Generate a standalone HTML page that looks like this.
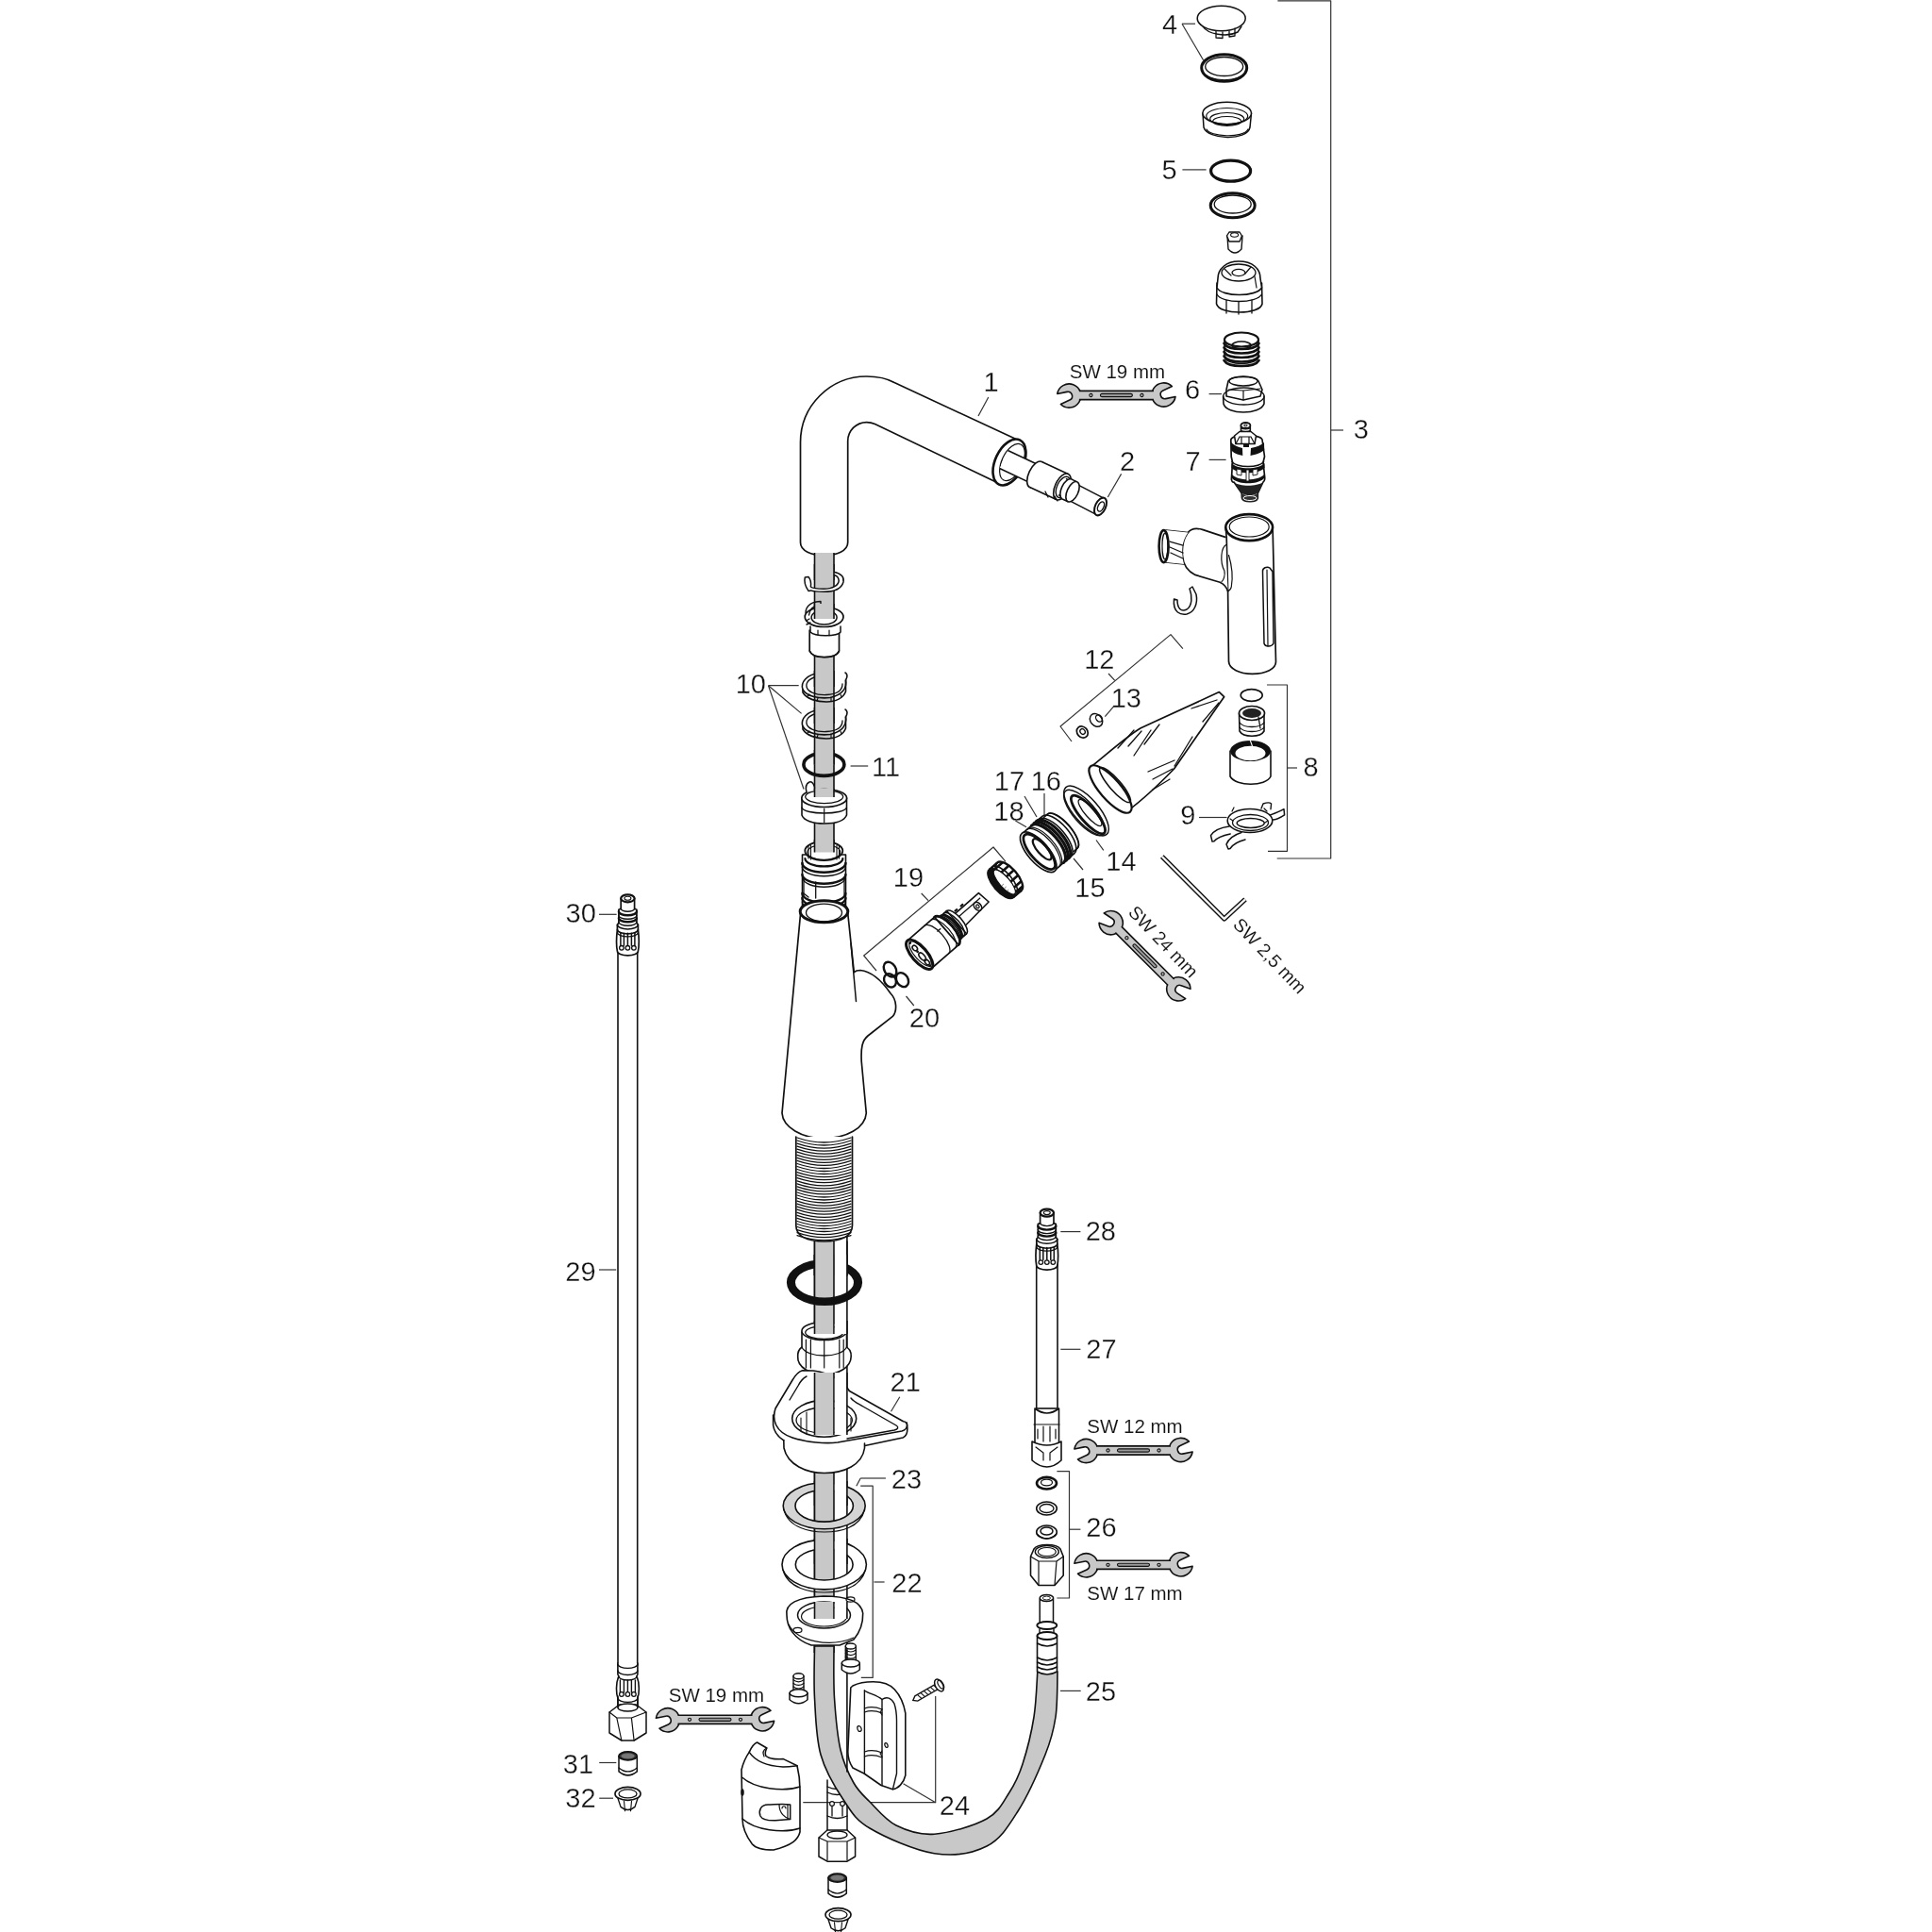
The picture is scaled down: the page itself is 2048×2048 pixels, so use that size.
<!DOCTYPE html>
<html><head><meta charset="utf-8"><style>
html,body{margin:0;padding:0;background:#fff;}
svg{display:block;will-change:transform;}
text{font-family:"Liberation Sans",sans-serif;fill:#111;stroke:#fff;stroke-width:0.3px;paint-order:normal;}
text.sw{stroke-width:0.1px;}
</style></head><body>
<svg xmlns="http://www.w3.org/2000/svg" width="2048" height="2048" viewBox="0 0 2048 2048">
<rect width="2048" height="2048" fill="#fff"/>
<text x="1050.5" y="414.5" font-size="29" text-anchor="middle" >1</text>
<text x="1195" y="498.7" font-size="29" text-anchor="middle" >2</text>
<text x="1442.7" y="465" font-size="29" text-anchor="middle" >3</text>
<text x="1240" y="35.6" font-size="29" text-anchor="middle" >4</text>
<text x="1239.5" y="190" font-size="29" text-anchor="middle" >5</text>
<text x="1264" y="423" font-size="29" text-anchor="middle" >6</text>
<text x="1264.5" y="498.7" font-size="29" text-anchor="middle" >7</text>
<text x="1389.5" y="822.6" font-size="29" text-anchor="middle" >8</text>
<text x="1259.2" y="873.8" font-size="29" text-anchor="middle" >9</text>
<text x="795.8" y="735" font-size="29" text-anchor="middle" >10</text>
<text x="939" y="822.9" font-size="29" text-anchor="middle" >11</text>
<text x="1165.3" y="709.4" font-size="29" text-anchor="middle" >12</text>
<text x="1193.8" y="750" font-size="29" text-anchor="middle" >13</text>
<text x="1188.5" y="923" font-size="29" text-anchor="middle" >14</text>
<text x="1155.5" y="950.5" font-size="29" text-anchor="middle" >15</text>
<text x="1108.8" y="838.4" font-size="29" text-anchor="middle" >16</text>
<text x="1070" y="838.4" font-size="29" text-anchor="middle" >17</text>
<text x="1069.5" y="870" font-size="29" text-anchor="middle" >18</text>
<text x="963" y="939.5" font-size="29" text-anchor="middle" >19</text>
<text x="980" y="1089.4" font-size="29" text-anchor="middle" >20</text>
<text x="959.7" y="1474.5" font-size="29" text-anchor="middle" >21</text>
<text x="961.5" y="1687.7" font-size="29" text-anchor="middle" >22</text>
<text x="961" y="1577.6" font-size="29" text-anchor="middle" >23</text>
<text x="1012" y="1923.7" font-size="29" text-anchor="middle" >24</text>
<text x="1167" y="1803" font-size="29" text-anchor="middle" >25</text>
<text x="1167.4" y="1628.6" font-size="29" text-anchor="middle" >26</text>
<text x="1167.4" y="1440" font-size="29" text-anchor="middle" >27</text>
<text x="1166.8" y="1315.2" font-size="29" text-anchor="middle" >28</text>
<text x="615.5" y="1358" font-size="29" text-anchor="middle" >29</text>
<text x="615.7" y="978" font-size="29" text-anchor="middle" >30</text>
<text x="613" y="1880" font-size="29" text-anchor="middle" >31</text>
<text x="615.4" y="1915.6" font-size="29" text-anchor="middle" >32</text>
<line x1="1047.8" y1="421" x2="1037" y2="441" stroke="#333" stroke-width="1.2"/>
<line x1="1188.6" y1="502.4" x2="1174.3" y2="527" stroke="#333" stroke-width="1.2"/>
<line x1="1410.7" y1="456" x2="1424" y2="456" stroke="#333" stroke-width="1.2"/>
<line x1="1253" y1="25.2" x2="1267" y2="25.2" stroke="#333" stroke-width="1.2"/>
<line x1="1253" y1="25.2" x2="1275.6" y2="63.8" stroke="#333" stroke-width="1.2"/>
<line x1="1253.4" y1="179.9" x2="1278.6" y2="179.9" stroke="#333" stroke-width="1.2"/>
<line x1="1281.6" y1="417.6" x2="1295" y2="417.6" stroke="#333" stroke-width="1.2"/>
<line x1="1281.6" y1="487.4" x2="1299.6" y2="487.4" stroke="#333" stroke-width="1.2"/>
<line x1="1364.5" y1="814" x2="1375" y2="814" stroke="#333" stroke-width="1.2"/>
<line x1="1271" y1="866.5" x2="1300.6" y2="866.5" stroke="#333" stroke-width="1.2"/>
<line x1="814.5" y1="726.7" x2="846.7" y2="726.7" stroke="#333" stroke-width="1.2"/>
<line x1="814.5" y1="726.7" x2="849.6" y2="756.4" stroke="#333" stroke-width="1.2"/>
<line x1="814.5" y1="726.7" x2="852" y2="836.5" stroke="#333" stroke-width="1.2"/>
<line x1="901.6" y1="812" x2="920.2" y2="812" stroke="#333" stroke-width="1.2"/>
<line x1="1175" y1="714" x2="1181.8" y2="721.4" stroke="#333" stroke-width="1.2"/>
<line x1="1181" y1="748.4" x2="1171.3" y2="759.7" stroke="#333" stroke-width="1.2"/>
<line x1="1162" y1="890.5" x2="1169.8" y2="901.3" stroke="#333" stroke-width="1.2"/>
<line x1="1138" y1="910" x2="1148" y2="922" stroke="#333" stroke-width="1.2"/>
<line x1="1107" y1="841" x2="1107" y2="864" stroke="#333" stroke-width="1.2"/>
<line x1="1086" y1="844" x2="1099" y2="866" stroke="#333" stroke-width="1.2"/>
<line x1="1076.4" y1="870" x2="1088" y2="876.7" stroke="#333" stroke-width="1.2"/>
<line x1="976.7" y1="947" x2="984" y2="954.7" stroke="#333" stroke-width="1.2"/>
<line x1="960.5" y1="1056" x2="968.8" y2="1066" stroke="#333" stroke-width="1.2"/>
<line x1="953.8" y1="1480.7" x2="944.5" y2="1496.3" stroke="#333" stroke-width="1.2"/>
<line x1="926.5" y1="1677" x2="937.6" y2="1677" stroke="#333" stroke-width="1.2"/>
<line x1="938.9" y1="1567" x2="912.2" y2="1567" stroke="#333" stroke-width="1.2"/>
<line x1="912.2" y1="1567" x2="907.8" y2="1575.2" stroke="#333" stroke-width="1.2"/>
<line x1="957.5" y1="1890.8" x2="991.7" y2="1910.7" stroke="#333" stroke-width="1.2"/>
<line x1="1124" y1="1792.4" x2="1145.7" y2="1792.4" stroke="#333" stroke-width="1.2"/>
<line x1="1133.5" y1="1621.2" x2="1145.4" y2="1621.2" stroke="#333" stroke-width="1.2"/>
<line x1="1124.3" y1="1430.3" x2="1145.4" y2="1430.3" stroke="#333" stroke-width="1.2"/>
<line x1="1124.3" y1="1305.6" x2="1145.4" y2="1305.6" stroke="#333" stroke-width="1.2"/>
<line x1="635" y1="1346" x2="653.2" y2="1346" stroke="#333" stroke-width="1.2"/>
<line x1="635" y1="969.3" x2="653.6" y2="969.3" stroke="#333" stroke-width="1.2"/>
<line x1="635.2" y1="1868.5" x2="653.3" y2="1868.5" stroke="#333" stroke-width="1.2"/>
<line x1="635.2" y1="1906.2" x2="650" y2="1906.2" stroke="#333" stroke-width="1.2"/>
<path d="M1354.4,0.8 L1410.7,0.8 L1410.7,910 L1353.7,910" stroke="#333" stroke-width="1.2" fill="none" stroke-linejoin="round"/>
<path d="M1343,726 L1364.5,726 L1364.5,902.3 L1344,902.3" stroke="#333" stroke-width="1.2" fill="none" stroke-linejoin="round"/>
<path d="M1253.9,687.6 L1241,672.6 L1124,770 L1136,786" stroke="#333" stroke-width="1.2" fill="none" stroke-linejoin="round"/>
<path d="M1066,913.4 L1053,898 L915.7,1013 L929,1029" stroke="#333" stroke-width="1.2" fill="none" stroke-linejoin="round"/>
<path d="M912.2,1575.2 L925.2,1575.2 L925.2,1778.4 L912.8,1778.4" stroke="#333" stroke-width="1.2" fill="none" stroke-linejoin="round"/>
<path d="M1120.4,1559.7 L1133.5,1559.7 L1133.5,1694 L1120.4,1694" stroke="#333" stroke-width="1.2" fill="none" stroke-linejoin="round"/>
<path d="M851.3,1910.7 L991.7,1910.7 L991.7,1798" stroke="#333" stroke-width="1.2" fill="none" stroke-linejoin="round"/>
<text x="1184.4" y="401" font-size="20.5" text-anchor="middle" class="sw">SW 19 mm</text>
<text x="759.4" y="1804" font-size="20.5" text-anchor="middle" class="sw">SW 19 mm</text>
<text x="1203" y="1519.3" font-size="20.5" text-anchor="middle" class="sw">SW 12 mm</text>
<text x="1203" y="1696.4" font-size="20.5" text-anchor="middle" class="sw">SW 17 mm</text>
<text class="sw" x="0" y="0" font-size="19.5" transform="translate(1195 968) rotate(46.3)">SW 24 mm</text>
<text class="sw" x="0" y="0" font-size="19.5" transform="translate(1306 981) rotate(46.3)">SW 2,5 mm</text>
<g transform="translate(1183.4 419) rotate(0)"><path d="M59,-9.5 A12.6,12.6 0 1 0 62.6,1.5 L52.3,3.6 A4.6,4.6 0 0 1 49.5,-5.1 Z" fill="#c8c8c8" stroke="#111" stroke-width="1.6" stroke-linejoin="round"/><path d="M-59,9.5 A12.6,12.6 0 1 0 -62.6,-1.5 L-52.3,-3.6 A4.6,4.6 0 0 1 -49.5,5.1 Z" fill="#c8c8c8" stroke="#111" stroke-width="1.6" stroke-linejoin="round"/><rect x="-41.5" y="-4.6" width="83" height="9.2" fill="#c8c8c8" stroke="none"/><path d="M-39.5,-4.6 L39.5,-4.6 M-39.5,4.6 L39.5,4.6" stroke="#111" stroke-width="1.6"/><rect x="-17" y="-1.6" width="34" height="3.2" rx="1.6" fill="#9a9a9a" stroke="#111" stroke-width="1.1"/><circle cx="-27" cy="0" r="1.6" fill="none" stroke="#111" stroke-width="1.1"/><circle cx="27" cy="0" r="1.6" fill="none" stroke="#111" stroke-width="1.1"/></g>
<g transform="translate(758 1822.8) rotate(0)"><path d="M59,-9.5 A12.6,12.6 0 1 0 62.6,1.5 L52.3,3.6 A4.6,4.6 0 0 1 49.5,-5.1 Z" fill="#c8c8c8" stroke="#111" stroke-width="1.6" stroke-linejoin="round"/><path d="M-59,9.5 A12.6,12.6 0 1 0 -62.6,-1.5 L-52.3,-3.6 A4.6,4.6 0 0 1 -49.5,5.1 Z" fill="#c8c8c8" stroke="#111" stroke-width="1.6" stroke-linejoin="round"/><rect x="-41.5" y="-4.6" width="83" height="9.2" fill="#c8c8c8" stroke="none"/><path d="M-39.5,-4.6 L39.5,-4.6 M-39.5,4.6 L39.5,4.6" stroke="#111" stroke-width="1.6"/><rect x="-17" y="-1.6" width="34" height="3.2" rx="1.6" fill="#9a9a9a" stroke="#111" stroke-width="1.1"/><circle cx="-27" cy="0" r="1.6" fill="none" stroke="#111" stroke-width="1.1"/><circle cx="27" cy="0" r="1.6" fill="none" stroke="#111" stroke-width="1.1"/></g>
<g transform="translate(1201.5 1537.5) rotate(0)"><path d="M59,-9.5 A12.6,12.6 0 1 0 62.6,1.5 L52.3,3.6 A4.6,4.6 0 0 1 49.5,-5.1 Z" fill="#c8c8c8" stroke="#111" stroke-width="1.6" stroke-linejoin="round"/><path d="M-59,9.5 A12.6,12.6 0 1 0 -62.6,-1.5 L-52.3,-3.6 A4.6,4.6 0 0 1 -49.5,5.1 Z" fill="#c8c8c8" stroke="#111" stroke-width="1.6" stroke-linejoin="round"/><rect x="-41.5" y="-4.6" width="83" height="9.2" fill="#c8c8c8" stroke="none"/><path d="M-39.5,-4.6 L39.5,-4.6 M-39.5,4.6 L39.5,4.6" stroke="#111" stroke-width="1.6"/><rect x="-17" y="-1.6" width="34" height="3.2" rx="1.6" fill="#9a9a9a" stroke="#111" stroke-width="1.1"/><circle cx="-27" cy="0" r="1.6" fill="none" stroke="#111" stroke-width="1.1"/><circle cx="27" cy="0" r="1.6" fill="none" stroke="#111" stroke-width="1.1"/></g>
<g transform="translate(1201.5 1658.8) rotate(0)"><path d="M59,-9.5 A12.6,12.6 0 1 0 62.6,1.5 L52.3,3.6 A4.6,4.6 0 0 1 49.5,-5.1 Z" fill="#c8c8c8" stroke="#111" stroke-width="1.6" stroke-linejoin="round"/><path d="M-59,9.5 A12.6,12.6 0 1 0 -62.6,-1.5 L-52.3,-3.6 A4.6,4.6 0 0 1 -49.5,5.1 Z" fill="#c8c8c8" stroke="#111" stroke-width="1.6" stroke-linejoin="round"/><rect x="-41.5" y="-4.6" width="83" height="9.2" fill="#c8c8c8" stroke="none"/><path d="M-39.5,-4.6 L39.5,-4.6 M-39.5,4.6 L39.5,4.6" stroke="#111" stroke-width="1.6"/><rect x="-17" y="-1.6" width="34" height="3.2" rx="1.6" fill="#9a9a9a" stroke="#111" stroke-width="1.1"/><circle cx="-27" cy="0" r="1.6" fill="none" stroke="#111" stroke-width="1.1"/><circle cx="27" cy="0" r="1.6" fill="none" stroke="#111" stroke-width="1.1"/></g>
<g transform="translate(1213.5 1013.3) rotate(45)"><path d="M59,-9.5 A12.6,12.6 0 1 0 62.6,1.5 L52.3,3.6 A4.6,4.6 0 0 1 49.5,-5.1 Z" fill="#c8c8c8" stroke="#111" stroke-width="1.6" stroke-linejoin="round"/><path d="M-59,9.5 A12.6,12.6 0 1 0 -62.6,-1.5 L-52.3,-3.6 A4.6,4.6 0 0 1 -49.5,5.1 Z" fill="#c8c8c8" stroke="#111" stroke-width="1.6" stroke-linejoin="round"/><rect x="-41.5" y="-4.6" width="83" height="9.2" fill="#c8c8c8" stroke="none"/><path d="M-39.5,-4.6 L39.5,-4.6 M-39.5,4.6 L39.5,4.6" stroke="#111" stroke-width="1.6"/><rect x="-17" y="-1.6" width="34" height="3.2" rx="1.6" fill="#9a9a9a" stroke="#111" stroke-width="1.1"/><circle cx="-27" cy="0" r="1.6" fill="none" stroke="#111" stroke-width="1.1"/><circle cx="27" cy="0" r="1.6" fill="none" stroke="#111" stroke-width="1.1"/></g>
<path d="M848.5,575 L848.5,469 A70,70 0 0 1 918.5,399 C930,399 940,401 948,405.6 L1076,465 L1058,512 L927.5,449.6 C924,448 921,447.6 918.7,447.6 A20,20 0 0 0 898.7,467.6 L898.7,575 C898.7,584 887,588.6 873.6,588.6 C860,588.6 848.5,584 848.5,575 Z" stroke="#111" stroke-width="1.7" fill="#fff" stroke-linejoin="round" stroke-linecap="round" />
<ellipse cx="1070" cy="490" rx="15" ry="26" stroke="#111" stroke-width="2.6" fill="#fff" transform="rotate(25 1070 490)" />
<ellipse cx="1073" cy="490" rx="11" ry="21" stroke="#111" stroke-width="1.2" fill="none" transform="rotate(25 1073 490)" />
<path d="M1059.6,496.5 L1095.6,513.5 L1104.4,494.5 L1068.4,477.5 Z" stroke="#111" stroke-width="0" fill="#fff" stroke-linejoin="round"/>
<line x1="1059.6" y1="496.5" x2="1095.6" y2="513.5" stroke="#111" stroke-width="1.5"/>
<line x1="1104.4" y1="494.5" x2="1068.4" y2="477.5" stroke="#111" stroke-width="1.5"/>
<ellipse cx="1098" cy="503" rx="7.5" ry="15" stroke="#111" stroke-width="1.6" fill="#fff" transform="rotate(25 1098 503)" />
<path d="M1091.7,516.6 L1119.7,529.6 L1132.3,502.4 L1104.3,489.4 Z" stroke="#111" stroke-width="0" fill="#fff" stroke-linejoin="round"/>
<line x1="1091.7" y1="516.6" x2="1119.7" y2="529.6" stroke="#111" stroke-width="1.6"/>
<line x1="1132.3" y1="502.4" x2="1104.3" y2="489.4" stroke="#111" stroke-width="1.6"/>
<ellipse cx="1126" cy="516" rx="7.5" ry="15" stroke="#111" stroke-width="1.6" fill="#fff" transform="rotate(25 1126 516)" />
<ellipse cx="1127" cy="516.5" rx="6.5" ry="12" stroke="#111" stroke-width="1.4" fill="none" transform="rotate(25 1127 516.5)" />
<path d="M1118,526 L1121,531 M1108,521 L1111,527" stroke="#111" stroke-width="1.3" fill="none" stroke-linejoin="round" stroke-linecap="round" />
<path d="M1122,524.6 L1162.5,545.6 L1170.5,528.4 L1130,507.4 Z" stroke="#111" stroke-width="0" fill="#fff" stroke-linejoin="round"/>
<line x1="1122" y1="524.6" x2="1162.5" y2="545.6" stroke="#111" stroke-width="1.5"/>
<line x1="1170.5" y1="528.4" x2="1130" y2="507.4" stroke="#111" stroke-width="1.5"/>
<ellipse cx="1131" cy="518.5" rx="5.8" ry="11.5" stroke="#111" stroke-width="1.6" fill="#fff" transform="rotate(25 1131 518.5)" />
<path d="M1126.1,528.9 L1132.1,531.7 L1141.9,510.9 L1135.9,508.1 Z" stroke="#111" stroke-width="0" fill="#fff" stroke-linejoin="round"/>
<line x1="1126.1" y1="528.9" x2="1132.1" y2="531.7" stroke="#111" stroke-width="1.6"/>
<line x1="1141.9" y1="510.9" x2="1135.9" y2="508.1" stroke="#111" stroke-width="1.6"/>
<ellipse cx="1137" cy="521.3" rx="5.8" ry="11.5" stroke="#111" stroke-width="1.6" fill="#fff" transform="rotate(25 1137 521.3)" />
<ellipse cx="1166.5" cy="537" rx="5.5" ry="10" stroke="#111" stroke-width="2" fill="#fff" transform="rotate(25 1166.5 537)" />
<ellipse cx="1167" cy="537" rx="3" ry="5.5" stroke="#111" stroke-width="1.4" fill="none" transform="rotate(25 1167 537)" />
<rect x="863.5" y="586" width="20.5" height="1166" fill="#c8c8c8"/>
<path d="M863.5,586 L863.5,1752 M884.0,586 L884.0,1752" stroke="#111" stroke-width="1.6"/>
<rect x="863.5" y="1309" width="20.5" height="443" fill="#c8c8c8"/>
<path d="M863.5,1309 L863.5,1752 M884.0,1309 L884.0,1752" stroke="#111" stroke-width="1.6"/>
<rect x="884.8" y="1309" width="12.6" height="443" fill="#fff"/>
<path d="M897.9,1309 L897.9,1752" stroke="#111" stroke-width="1.6"/>
<path d="M877,1887 L877,1945 M898,1887 L898,1945" stroke="#111" stroke-width="1.5" fill="none" stroke-linejoin="round" stroke-linecap="round" />
<path d="M877,1894 Q887.5,1899 898,1894 M877,1900 Q887.5,1905 898,1900 M877,1925 Q887.5,1930 898,1925 M882,1910 L882,1925 M893,1910 L893,1925" stroke="#111" stroke-width="1.3" fill="none" stroke-linejoin="round" stroke-linecap="round" />
<circle cx="882" cy="1912" r="2.4" fill="#fff" stroke="#111" stroke-width="1.2"/><circle cx="893" cy="1912" r="2.4" fill="#fff" stroke="#111" stroke-width="1.2"/>
<path d="M863.5,1745 C863.5,1754.2 862.4,1780.8 863.5,1800 C864.6,1819.2 865,1842.2 870,1860 C875,1877.8 884.8,1894 893.5,1907 C902.2,1920 905.9,1928.4 922,1938 C938.1,1947.6 969.7,1961.5 990.4,1964.7 C1011.1,1967.9 1031.2,1964.5 1046,1957 C1060.8,1949.5 1068.7,1936.2 1079,1920 C1089.3,1903.8 1101.3,1876.7 1108,1860 C1114.7,1843.3 1116.8,1834.7 1119,1820 C1121.2,1805.3 1120.7,1780 1121,1772 L1099.8,1772 C1099.2,1780 1098.6,1803.7 1096,1820 C1093.4,1836.3 1088.3,1856.7 1084,1870 C1079.7,1883.3 1076.3,1890.3 1070,1900 C1063.7,1909.7 1059.3,1920.6 1046,1928 C1032.7,1935.4 1006.4,1943 990.4,1944.2 C974.4,1945.4 961.4,1940.7 950,1935 C938.6,1929.3 929.5,1917.5 922,1910 C914.5,1902.5 910.2,1899.2 905,1890 C899.8,1880.8 894.4,1870 891,1855 C887.6,1840 885.7,1818.3 884.5,1800 C883.3,1781.7 884.1,1754.2 884,1745 Z" stroke="#111" stroke-width="1.6" fill="#c8c8c8" stroke-linejoin="round" stroke-linecap="round" />
<path d="M897.9,1752 L897.9,1878" stroke="#111" stroke-width="1.6" fill="none" stroke-linejoin="round" stroke-linecap="round" />
<path d="M883.8,606.2 C892,608 895,612 894,617 C892,624 884,627.3 873.3,627.3 C866,627.3 861,626.5 859.6,625.9 L857,626.4 C854,622 852,617 853.3,612 L857,611.6 C859,614 860,618 859.4,622 C861,623.5 866,624.2 873.3,624.2 C883,624.2 889,620 889.2,615.6 C889,612 887,610 883.8,609.4" stroke="#111" stroke-width="1.5" fill="#fff" stroke-linejoin="round" stroke-linecap="round" />
<rect x="863.5" y="598" width="20.5" height="17" fill="#c8c8c8"/>
<path d="M863.5,598 L863.5,615 M884.0,598 L884.0,615" stroke="#111" stroke-width="1.6"/>
<path d="M858.2,668 L858.2,690 C860,695 866,696.5 873.8,696.5 C882,696.5 888,695 889.5,690 L889.5,668" stroke="#111" stroke-width="1.7" fill="#fff" stroke-linejoin="round" stroke-linecap="round" />
<path d="M859,664 L859,670 C862,673 868,673.7 875,673.7 C882,673.7 889,673 891,670 L891,664" stroke="#111" stroke-width="1.5" fill="#fff" stroke-linejoin="round" stroke-linecap="round" />
<path d="M867,668 L867,673 M879,668 L879,673.7" stroke="#111" stroke-width="1.2" fill="none" stroke-linejoin="round" stroke-linecap="round" />
<ellipse cx="873.6" cy="654" rx="20.4" ry="10.5" stroke="#111" stroke-width="1.7" fill="#fff" />
<ellipse cx="873.6" cy="654.5" rx="13.5" ry="7.5" stroke="#111" stroke-width="1.5" fill="none" />
<path d="M854,650 C854,641 862,637.5 870,637.5 L870,641 C862,642 858,646 857.5,652 M854.5,658 L858,656 M855,662 L859,660" stroke="#111" stroke-width="1.4" fill="none" stroke-linejoin="round" stroke-linecap="round" />
<rect x="863.5" y="640" width="20.5" height="16" fill="#c8c8c8"/>
<path d="M863.5,640 L863.5,656 M884.0,640 L884.0,656" stroke="#111" stroke-width="1.6"/>
<path d="M858.2,690 C862,699 885,699 889.5,690" stroke="#111" stroke-width="1.5" fill="none" stroke-linejoin="round" stroke-linecap="round" />
<path d="M896.5,721 C898,729 893,737 880,739.5 C868,741 855,738 851,731 C848,723 856,715 868,713.5 L872,713.5" stroke="#111" stroke-width="1.6" fill="none" stroke-linejoin="round" stroke-linecap="round" />
<path d="M893,725 C893,732 888,736 876,736.5 C864,737 856,733 855,728 C854,722 860,718 868,717 L872,717" stroke="#111" stroke-width="1.3" fill="none" stroke-linejoin="round" stroke-linecap="round" />
<path d="M851,731 L851,734 C855,741 866,744 876,744 C886,744 894,740 896.5,733 L896.5,721 C899,717 898,714 896,713" stroke="#111" stroke-width="1.6" fill="none" stroke-linejoin="round" stroke-linecap="round" />
<path d="M856,738 L858,736 M866,743 L867,740 M881,743 L881,740 M892,739 L891,736" stroke="#111" stroke-width="1.1" fill="none" stroke-linejoin="round" stroke-linecap="round" />
<rect x="863.5" y="711" width="20.5" height="17" fill="#c8c8c8"/>
<path d="M863.5,711 L863.5,728 M884.0,711 L884.0,728" stroke="#111" stroke-width="1.6"/>
<path d="M896.5,760 C898,768 893,776 880,778.5 C868,780 855,777 851,770 C848,762 856,754 868,752.5 L872,752.5" stroke="#111" stroke-width="1.6" fill="none" stroke-linejoin="round" stroke-linecap="round" />
<path d="M893,764 C893,771 888,775 876,775.5 C864,776 856,772 855,767 C854,761 860,757 868,756 L872,756" stroke="#111" stroke-width="1.3" fill="none" stroke-linejoin="round" stroke-linecap="round" />
<path d="M851,770 L851,773 C855,780 866,783 876,783 C886,783 894,779 896.5,772 L896.5,760 C899,756 898,753 896,752" stroke="#111" stroke-width="1.6" fill="none" stroke-linejoin="round" stroke-linecap="round" />
<path d="M856,777 L858,775 M866,782 L867,779 M881,782 L881,779 M892,778 L891,775" stroke="#111" stroke-width="1.1" fill="none" stroke-linejoin="round" stroke-linecap="round" />
<rect x="863.5" y="750" width="20.5" height="17" fill="#c8c8c8"/>
<path d="M863.5,750 L863.5,767 M884.0,750 L884.0,767" stroke="#111" stroke-width="1.6"/>
<ellipse cx="873.4" cy="810.4" rx="21.5" ry="12" stroke="#111" stroke-width="3.6" fill="none" />
<rect x="863.5" y="795" width="20.5" height="15.4" fill="#c8c8c8"/>
<path d="M863.5,795 L863.5,810.4 M884.0,795 L884.0,810.4" stroke="#111" stroke-width="1.6"/>
<path d="M850,846 L850,864 C852,870 862,873 873.7,873 C886,873 895,870 897.5,864 L897.5,846" stroke="#111" stroke-width="1.6" fill="#fff" stroke-linejoin="round" stroke-linecap="round" />
<ellipse cx="873.7" cy="846" rx="23.9" ry="9.5" stroke="#111" stroke-width="1.7" fill="#fff" />
<ellipse cx="873.7" cy="844.6" rx="20" ry="7" stroke="#111" stroke-width="1.3" fill="none" />
<path d="M850,856 C852,864 895,864 897.5,856" stroke="#111" stroke-width="1.3" fill="none" stroke-linejoin="round" stroke-linecap="round" />
<path d="M873.7,857 L873.7,872" stroke="#111" stroke-width="1.2" fill="none" stroke-linejoin="round" stroke-linecap="round" />
<path d="M855,840 C853,833 856,830 858,829 C861,828 864,832 863.5,838" stroke="#111" stroke-width="1.5" fill="#fff" stroke-linejoin="round" stroke-linecap="round" />
<rect x="863.5" y="836" width="20.5" height="9" fill="#c8c8c8"/>
<path d="M863.5,836 L863.5,845 M884.0,836 L884.0,845" stroke="#111" stroke-width="1.6"/>
<path d="M850.5,906 L850.5,962 C852,975 895,975 896.5,962 L896.5,906 Z" stroke="#111" stroke-width="1.6" fill="#fff" stroke-linejoin="round" stroke-linecap="round" />
<ellipse cx="873.3" cy="902" rx="20" ry="10" stroke="#111" stroke-width="1.8" fill="#fff" />
<ellipse cx="873.3" cy="903.4" rx="17.5" ry="8" stroke="#111" stroke-width="1.2" fill="none" />
<path d="M857,897 L857,910 M859.5,896 L859.5,911 M887,896 L887,911 M889.5,897 L889.5,910" stroke="#111" stroke-width="1.1" fill="none" stroke-linejoin="round" stroke-linecap="round" />
<rect x="863.5" y="890" width="20.5" height="13.5" fill="#c8c8c8"/>
<path d="M863.5,890 L863.5,903.5 M884.0,890 L884.0,903.5" stroke="#111" stroke-width="1.6"/>
<path d="M853.4,910 A20,8.4 0 0 0 893.4,910" stroke="#111" stroke-width="2.2" fill="none" stroke-linejoin="round" stroke-linecap="round" />
<path d="M850.4,915 A23,9.7 0 0 0 896.4,915" stroke="#111" stroke-width="2.6" fill="none" stroke-linejoin="round" stroke-linecap="round" />
<path d="M850.4,919 A23,9.7 0 0 0 896.4,919" stroke="#111" stroke-width="1.5" fill="none" stroke-linejoin="round" stroke-linecap="round" />
<path d="M850.4,927 A23,9.7 0 0 0 896.4,927" stroke="#111" stroke-width="2.4" fill="none" stroke-linejoin="round" stroke-linecap="round" />
<path d="M851.4,931 A22,9.2 0 0 0 895.4,931" stroke="#111" stroke-width="1.4" fill="none" stroke-linejoin="round" stroke-linecap="round" />
<path d="M852,931 L852,950 M895,931 L895,950 M864.7,935 L864.7,952" stroke="#111" stroke-width="1.3" fill="none" stroke-linejoin="round" stroke-linecap="round" />
<path d="M850.4,947 A23,9.7 0 0 0 896.4,947" stroke="#111" stroke-width="2.4" fill="none" stroke-linejoin="round" stroke-linecap="round" />
<path d="M850.4,952 A23,9.7 0 0 0 896.4,952" stroke="#111" stroke-width="2.4" fill="none" stroke-linejoin="round" stroke-linecap="round" />
<path d="M850.4,956 A23,9.7 0 0 0 896.4,956" stroke="#111" stroke-width="1.5" fill="none" stroke-linejoin="round" stroke-linecap="round" />
<path d="M850.5,946 L857,951" stroke="#111" stroke-width="1.4" fill="none" stroke-linejoin="round" stroke-linecap="round" />
<path d="M848.8,966 L829,1180 C830,1195 850,1206.7 873.4,1206.7 C897,1206.7 917,1196 918.3,1180 L913.2,1125 C912.5,1110 914,1103 920,1098 L946.3,1077.4 C951,1072 951,1060 944,1053 C935,1040 925,1030 912,1028.5 C909,1028.5 907,1029 905.3,1030.7 L898.5,966 Z" stroke="#111" stroke-width="1.7" fill="#fff" stroke-linejoin="round" stroke-linecap="round" />
<path d="M902,1000 L907.5,1061.5" stroke="#111" stroke-width="1.5" fill="none" stroke-linejoin="round" stroke-linecap="round" />
<ellipse cx="873.5" cy="966.3" rx="25.3" ry="11.5" stroke="#111" stroke-width="3" fill="#fff" />
<ellipse cx="873.5" cy="967.5" rx="19" ry="9.3" stroke="#111" stroke-width="1.3" fill="none" />
<path d="M843.8,1205 L843.8,1299 C843.8,1310 855,1316 873.6,1316 C892,1316 903.5,1310 903.5,1299 L903.5,1205" stroke="#111" stroke-width="1.7" fill="#fff" stroke-linejoin="round" stroke-linecap="round" />
<path d="M845,1206 Q873.6,1216 902,1206" stroke="#111" stroke-width="1.3" fill="none" stroke-linejoin="round" stroke-linecap="round" />
<path d="M845,1209 Q873.6,1219 902,1209" stroke="#111" stroke-width="1.3" fill="none" stroke-linejoin="round" stroke-linecap="round" />
<path d="M845,1212.1 Q873.6,1222.1 902,1212.1" stroke="#111" stroke-width="1.3" fill="none" stroke-linejoin="round" stroke-linecap="round" />
<path d="M845,1215.2 Q873.6,1225.2 902,1215.2" stroke="#111" stroke-width="1.3" fill="none" stroke-linejoin="round" stroke-linecap="round" />
<path d="M845,1218.2 Q873.6,1228.2 902,1218.2" stroke="#111" stroke-width="1.3" fill="none" stroke-linejoin="round" stroke-linecap="round" />
<path d="M845,1221.2 Q873.6,1231.2 902,1221.2" stroke="#111" stroke-width="1.3" fill="none" stroke-linejoin="round" stroke-linecap="round" />
<path d="M845,1224.3 Q873.6,1234.3 902,1224.3" stroke="#111" stroke-width="1.3" fill="none" stroke-linejoin="round" stroke-linecap="round" />
<path d="M845,1227.3 Q873.6,1237.3 902,1227.3" stroke="#111" stroke-width="1.3" fill="none" stroke-linejoin="round" stroke-linecap="round" />
<path d="M845,1230.4 Q873.6,1240.4 902,1230.4" stroke="#111" stroke-width="1.3" fill="none" stroke-linejoin="round" stroke-linecap="round" />
<path d="M845,1233.5 Q873.6,1243.5 902,1233.5" stroke="#111" stroke-width="1.3" fill="none" stroke-linejoin="round" stroke-linecap="round" />
<path d="M845,1236.5 Q873.6,1246.5 902,1236.5" stroke="#111" stroke-width="1.3" fill="none" stroke-linejoin="round" stroke-linecap="round" />
<path d="M845,1239.5 Q873.6,1249.5 902,1239.5" stroke="#111" stroke-width="1.3" fill="none" stroke-linejoin="round" stroke-linecap="round" />
<path d="M845,1242.6 Q873.6,1252.6 902,1242.6" stroke="#111" stroke-width="1.3" fill="none" stroke-linejoin="round" stroke-linecap="round" />
<path d="M845,1245.7 Q873.6,1255.7 902,1245.7" stroke="#111" stroke-width="1.3" fill="none" stroke-linejoin="round" stroke-linecap="round" />
<path d="M845,1248.7 Q873.6,1258.7 902,1248.7" stroke="#111" stroke-width="1.3" fill="none" stroke-linejoin="round" stroke-linecap="round" />
<path d="M845,1251.8 Q873.6,1261.8 902,1251.8" stroke="#111" stroke-width="1.3" fill="none" stroke-linejoin="round" stroke-linecap="round" />
<path d="M845,1254.8 Q873.6,1264.8 902,1254.8" stroke="#111" stroke-width="1.3" fill="none" stroke-linejoin="round" stroke-linecap="round" />
<path d="M845,1257.8 Q873.6,1267.8 902,1257.8" stroke="#111" stroke-width="1.3" fill="none" stroke-linejoin="round" stroke-linecap="round" />
<path d="M845,1260.9 Q873.6,1270.9 902,1260.9" stroke="#111" stroke-width="1.3" fill="none" stroke-linejoin="round" stroke-linecap="round" />
<path d="M845,1264 Q873.6,1274 902,1264" stroke="#111" stroke-width="1.3" fill="none" stroke-linejoin="round" stroke-linecap="round" />
<path d="M845,1267 Q873.6,1277 902,1267" stroke="#111" stroke-width="1.3" fill="none" stroke-linejoin="round" stroke-linecap="round" />
<path d="M845,1270 Q873.6,1280 902,1270" stroke="#111" stroke-width="1.3" fill="none" stroke-linejoin="round" stroke-linecap="round" />
<path d="M845,1273.1 Q873.6,1283.1 902,1273.1" stroke="#111" stroke-width="1.3" fill="none" stroke-linejoin="round" stroke-linecap="round" />
<path d="M845,1276.2 Q873.6,1286.2 902,1276.2" stroke="#111" stroke-width="1.3" fill="none" stroke-linejoin="round" stroke-linecap="round" />
<path d="M845,1279.2 Q873.6,1289.2 902,1279.2" stroke="#111" stroke-width="1.3" fill="none" stroke-linejoin="round" stroke-linecap="round" />
<path d="M845,1282.2 Q873.6,1292.2 902,1282.2" stroke="#111" stroke-width="1.3" fill="none" stroke-linejoin="round" stroke-linecap="round" />
<path d="M845,1285.3 Q873.6,1295.3 902,1285.3" stroke="#111" stroke-width="1.3" fill="none" stroke-linejoin="round" stroke-linecap="round" />
<path d="M845,1288.3 Q873.6,1298.3 902,1288.3" stroke="#111" stroke-width="1.3" fill="none" stroke-linejoin="round" stroke-linecap="round" />
<path d="M845,1291.4 Q873.6,1301.4 902,1291.4" stroke="#111" stroke-width="1.3" fill="none" stroke-linejoin="round" stroke-linecap="round" />
<path d="M845,1294.5 Q873.6,1304.5 902,1294.5" stroke="#111" stroke-width="1.3" fill="none" stroke-linejoin="round" stroke-linecap="round" />
<path d="M845,1297.5 Q873.6,1307.5 902,1297.5" stroke="#111" stroke-width="1.3" fill="none" stroke-linejoin="round" stroke-linecap="round" />
<path d="M845,1300.5 Q873.6,1310.5 902,1300.5" stroke="#111" stroke-width="1.3" fill="none" stroke-linejoin="round" stroke-linecap="round" />
<path d="M845,1303.6 Q873.6,1313.6 902,1303.6" stroke="#111" stroke-width="1.3" fill="none" stroke-linejoin="round" stroke-linecap="round" />
<path d="M845,1306.7 Q873.6,1316.7 902,1306.7" stroke="#111" stroke-width="1.3" fill="none" stroke-linejoin="round" stroke-linecap="round" />
<path d="M845,1309.7 Q873.6,1319.7 902,1309.7" stroke="#111" stroke-width="1.3" fill="none" stroke-linejoin="round" stroke-linecap="round" />
<path d="M833.9,1359.5 a40.1,24.5 0 1 0 80.2,0 a40.1,24.5 0 1 0 -80.2,0 Z M843,1359.5 a31,16 0 1 0 62,0 a31,16 0 1 0 -62,0 Z" fill="#111" fill-rule="evenodd"/>
<rect x="863.5" y="1330" width="20.5" height="22" fill="#c8c8c8"/>
<path d="M863.5,1330 L863.5,1352 M884.0,1330 L884.0,1352" stroke="#111" stroke-width="1.6"/>
<rect x="884.8" y="1330" width="12.6" height="22" fill="#fff"/>
<path d="M897.9,1330 L897.9,1352" stroke="#111" stroke-width="1.6"/>
<rect x="884" y="1330" width="14" height="22" fill="#fff"/>
<rect x="863.5" y="1330" width="20.5" height="22" fill="#c8c8c8"/>
<path d="M863.5,1330 L863.5,1352 M884.0,1330 L884.0,1352" stroke="#111" stroke-width="1.6"/>
<path d="M897.9,1316 L897.9,1352" stroke="#111" stroke-width="1.6" fill="none" stroke-linejoin="round" stroke-linecap="round" />
<path d="M845.7,1438 C845,1450 860,1457 873.7,1457 C888,1457 902,1450 902.2,1438 C902.5,1432 900,1430 897.5,1428 L897.5,1412 L850,1412 L850,1428 C847,1430 845.5,1433 845.7,1438 Z" stroke="#111" stroke-width="1.6" fill="#fff" stroke-linejoin="round" stroke-linecap="round" />
<ellipse cx="873.7" cy="1411" rx="23.8" ry="9.5" stroke="#111" stroke-width="1.6" fill="#fff" />
<ellipse cx="873.7" cy="1412.5" rx="20" ry="7" stroke="#111" stroke-width="1.3" fill="none" />
<path d="M854.4,1420 L854.4,1450" stroke="#111" stroke-width="1.2" fill="none" stroke-linejoin="round" stroke-linecap="round" />
<path d="M859.4,1420 L859.4,1450" stroke="#111" stroke-width="1.2" fill="none" stroke-linejoin="round" stroke-linecap="round" />
<path d="M873.7,1420 L873.7,1450" stroke="#111" stroke-width="1.2" fill="none" stroke-linejoin="round" stroke-linecap="round" />
<path d="M889.8,1420 L889.8,1450" stroke="#111" stroke-width="1.2" fill="none" stroke-linejoin="round" stroke-linecap="round" />
<path d="M894.2,1420 L894.2,1450" stroke="#111" stroke-width="1.2" fill="none" stroke-linejoin="round" stroke-linecap="round" />
<path d="M850,1428 C855,1440 892,1440 897.5,1428" stroke="#111" stroke-width="1.3" fill="none" stroke-linejoin="round" stroke-linecap="round" />
<rect x="863.5" y="1400" width="20.5" height="14" fill="#c8c8c8"/>
<path d="M863.5,1400 L863.5,1414 M884.0,1400 L884.0,1414" stroke="#111" stroke-width="1.6"/>
<rect x="884.8" y="1400" width="12.6" height="14" fill="#fff"/>
<path d="M897.9,1400 L897.9,1414" stroke="#111" stroke-width="1.6"/>
<path d="M819.6,1500 L819.6,1511 C822,1528 845,1536 872,1538 C885,1538.5 895,1537 905,1535 L957,1524 C962,1522 962.5,1515 961.2,1508" stroke="#111" stroke-width="1.6" fill="#fff" stroke-linejoin="round" stroke-linecap="round" />
<path d="M830.8,1527 L831,1535 C835,1553 855,1561.5 873.7,1561.5 C895,1561.5 914,1553 916.5,1535 L916.5,1530" stroke="#111" stroke-width="1.6" fill="#fff" stroke-linejoin="round" stroke-linecap="round" />
<path d="M850.7,1452.8 C846,1454 843,1458 840,1463 L822,1493 C818,1505 822,1518 840,1524 C855,1529 875,1530.5 888,1529 L956,1517 C963,1515 963,1507 957.5,1506.8 L900.4,1474.5 C895,1465 880,1455 862,1453 Z" stroke="#111" stroke-width="1.6" fill="#fff" stroke-linejoin="round" stroke-linecap="round" />
<path d="M855,1459 C851,1461 848,1465 846,1469 L837,1484 M902,1482 C905,1486 910,1488 915,1491 L950,1511 C953,1513 952,1515 948,1516 L898,1525" stroke="#111" stroke-width="1.4" fill="none" stroke-linejoin="round" stroke-linecap="round" />
<ellipse cx="873.7" cy="1503.8" rx="34" ry="19.4" stroke="#111" stroke-width="1.6" fill="#fff" />
<ellipse cx="873.7" cy="1505.6" rx="29.7" ry="13.6" stroke="#111" stroke-width="1.3" fill="none" />
<path d="M849,1503 L849,1517 M855,1497 L855,1520 M896,1497 L896,1520 M902,1503 L902,1517" stroke="#111" stroke-width="1.1" fill="none" stroke-linejoin="round" stroke-linecap="round" />
<rect x="863.5" y="1455" width="20.5" height="66" fill="#c8c8c8"/>
<path d="M863.5,1455 L863.5,1521 M884.0,1455 L884.0,1521" stroke="#111" stroke-width="1.6"/>
<rect x="884.8" y="1455" width="12.6" height="66" fill="#fff"/>
<path d="M897.9,1455 L897.9,1521" stroke="#111" stroke-width="1.6"/>
<path d="M830.2,1596.3 a43.5,24.5 0 1 0 87,0 a43.5,24.5 0 1 0 -87,0 Z M843,1596.3 a30.7,16.8 0 1 0 61.4,0 a30.7,16.8 0 1 0 -61.4,0 Z" fill="#d4d4d4" fill-rule="evenodd" stroke="#111" stroke-width="1.6"/>
<path d="M831,1600 C835,1620 860,1624 873.7,1624 C890,1624 912,1620 916.5,1600" stroke="#111" stroke-width="1.2" fill="none" stroke-linejoin="round" stroke-linecap="round" />
<rect x="863.5" y="1570" width="20.5" height="26" fill="#c8c8c8"/>
<path d="M863.5,1570 L863.5,1596 M884.0,1570 L884.0,1596" stroke="#111" stroke-width="1.6"/>
<rect x="884.8" y="1570" width="12.6" height="26" fill="#fff"/>
<path d="M897.9,1570 L897.9,1596" stroke="#111" stroke-width="1.6"/>
<path d="M829,1658.5 a44.7,26.4 0 1 0 89.4,0 a44.7,26.4 0 1 0 -89.4,0 Z M843.3,1658.5 a30.4,16.5 0 1 0 60.8,0 a30.4,16.5 0 1 0 -60.8,0 Z" fill="#fff" fill-rule="evenodd" stroke="#111" stroke-width="1.6"/>
<path d="M830,1664 C835,1684 860,1688 873.7,1688 C890,1688 912,1684 917.5,1664" stroke="#111" stroke-width="1.2" fill="none" stroke-linejoin="round" stroke-linecap="round" />
<rect x="863.5" y="1631" width="20.5" height="27" fill="#c8c8c8"/>
<path d="M863.5,1631 L863.5,1658 M884.0,1631 L884.0,1658" stroke="#111" stroke-width="1.6"/>
<rect x="884.8" y="1631" width="12.6" height="27" fill="#fff"/>
<path d="M897.9,1631 L897.9,1658" stroke="#111" stroke-width="1.6"/>
<path d="M834,1712 C832,1700 845,1693 873,1692 C900,1692 913,1698 914.7,1710 C915,1722 910,1732 905,1738 L890,1744 L860,1744 C842,1738 834,1725 834,1712 Z" stroke="#111" stroke-width="1.6" fill="#fff" stroke-linejoin="round" stroke-linecap="round" />
<path d="M836,1722 C845,1740 880,1747 905,1736" stroke="#111" stroke-width="1.2" fill="none" stroke-linejoin="round" stroke-linecap="round" />
<ellipse cx="873.5" cy="1712" rx="28" ry="14" stroke="#111" stroke-width="1.5" fill="#fff" />
<ellipse cx="873.5" cy="1713.5" rx="24" ry="10.5" stroke="#111" stroke-width="1.2" fill="none" />
<ellipse cx="845.5" cy="1728" rx="4.5" ry="2.6" stroke="#111" stroke-width="1.2" fill="none" />
<ellipse cx="901.5" cy="1695.5" rx="4.5" ry="2.6" stroke="#111" stroke-width="1.2" fill="none" />
<rect x="863.5" y="1698" width="20.5" height="18" fill="#c8c8c8"/>
<path d="M863.5,1698 L863.5,1716 M884.0,1698 L884.0,1716" stroke="#111" stroke-width="1.6"/>
<rect x="884.8" y="1698" width="12.6" height="18" fill="#fff"/>
<path d="M897.9,1698 L897.9,1716" stroke="#111" stroke-width="1.6"/>
<path d="M896.3,1745 L896.3,1763 M907.3,1745 L907.3,1763" stroke="#111" stroke-width="1.4" fill="none" stroke-linejoin="round" stroke-linecap="round" />
<ellipse cx="901.8" cy="1745" rx="5.5" ry="3" stroke="#111" stroke-width="1.4" fill="#fff" />
<path d="M896.3,1749 Q901.8,1753 907.3,1749" stroke="#111" stroke-width="1.2" fill="none" stroke-linejoin="round" stroke-linecap="round" />
<path d="M896.3,1752.6 Q901.8,1756.6 907.3,1752.6" stroke="#111" stroke-width="1.2" fill="none" stroke-linejoin="round" stroke-linecap="round" />
<path d="M896.3,1756.2 Q901.8,1760.2 907.3,1756.2" stroke="#111" stroke-width="1.2" fill="none" stroke-linejoin="round" stroke-linecap="round" />
<path d="M896.3,1759.8 Q901.8,1763.8 907.3,1759.8" stroke="#111" stroke-width="1.2" fill="none" stroke-linejoin="round" stroke-linecap="round" />
<path d="M896.3,1763.4 Q901.8,1767.4 907.3,1763.4" stroke="#111" stroke-width="1.2" fill="none" stroke-linejoin="round" stroke-linecap="round" />
<path d="M892.3,1763 L892.3,1770 Q901.8,1778 911.3,1770 L911.3,1763" stroke="#111" stroke-width="1.5" fill="#fff" stroke-linejoin="round" stroke-linecap="round" />
<ellipse cx="901.8" cy="1763" rx="9.5" ry="4" stroke="#111" stroke-width="1.5" fill="#fff" />
<path d="M841,1776.8 L841,1794.8 M852,1776.8 L852,1794.8" stroke="#111" stroke-width="1.4" fill="none" stroke-linejoin="round" stroke-linecap="round" />
<ellipse cx="846.5" cy="1776.8" rx="5.5" ry="3" stroke="#111" stroke-width="1.4" fill="#fff" />
<path d="M841,1780.8 Q846.5,1784.8 852,1780.8" stroke="#111" stroke-width="1.2" fill="none" stroke-linejoin="round" stroke-linecap="round" />
<path d="M841,1784.4 Q846.5,1788.4 852,1784.4" stroke="#111" stroke-width="1.2" fill="none" stroke-linejoin="round" stroke-linecap="round" />
<path d="M841,1788 Q846.5,1792 852,1788" stroke="#111" stroke-width="1.2" fill="none" stroke-linejoin="round" stroke-linecap="round" />
<path d="M841,1791.6 Q846.5,1795.6 852,1791.6" stroke="#111" stroke-width="1.2" fill="none" stroke-linejoin="round" stroke-linecap="round" />
<path d="M841,1795.2 Q846.5,1799.2 852,1795.2" stroke="#111" stroke-width="1.2" fill="none" stroke-linejoin="round" stroke-linecap="round" />
<path d="M837,1794.8 L837,1801.8 Q846.5,1809.8 856,1801.8 L856,1794.8" stroke="#111" stroke-width="1.5" fill="#fff" stroke-linejoin="round" stroke-linecap="round" />
<ellipse cx="846.5" cy="1794.8" rx="9.5" ry="4" stroke="#111" stroke-width="1.5" fill="#fff" />
<g transform="translate(986 1792) rotate(-30)"><path d="M-17,-3 L8,-3 L8,3 L-17,3 L-21,0 Z" fill="#fff" stroke="#111" stroke-width="1.4"/><path d="M-14,-3 L-12,3 M-10,-3 L-8,3 M-6,-3 L-4,3 M-2,-3 L0,3 M2,-3 L4,3 M6,-3 L8,3" stroke="#111" stroke-width="1.2"/><ellipse cx="11" cy="0" rx="4" ry="7" fill="#fff" stroke="#111" stroke-width="1.5"/><ellipse cx="13" cy="0" rx="2.5" ry="5" fill="none" stroke="#111" stroke-width="1.2"/></g>
<path d="M904,1787 C912,1783 918,1782.8 925.7,1782.8 C935,1782.8 943,1785 948.4,1791 C954,1797 958,1806 959.8,1816 L959.8,1882 C958,1890 952,1896 946.4,1896.7 L934,1892.5 L916,1880 L904,1874 C900,1868 898.8,1862 898.8,1857 L901.8,1789 Z" stroke="#111" stroke-width="1.6" fill="#fff" stroke-linejoin="round" stroke-linecap="round" />
<path d="M916.4,1792 L916.4,1880 M935,1801.5 L935,1892.5 M950.5,1824 L950.5,1880 M935,1801.5 C940,1798 945,1800 948,1806 C950,1812 950.5,1818 950.5,1824 M950.5,1880 L946.4,1896.7" stroke="#111" stroke-width="1.4" fill="none" stroke-linejoin="round" stroke-linecap="round" />
<path d="M916.4,1792 C920,1795 930,1797 935,1801.5" stroke="#111" stroke-width="1.3" fill="none" stroke-linejoin="round" stroke-linecap="round" />
<path d="M916.4,1811 C922,1809 930,1810 935,1812 M916.4,1815 C922,1813 930,1814 935,1816 M916.4,1857 C922,1855 930,1856 935,1858 M916.4,1862 C922,1860 930,1861 935,1863" stroke="#111" stroke-width="1.2" fill="none" stroke-linejoin="round" stroke-linecap="round" />
<path d="M935,1812 L933,1815 L935,1818 M935,1856 L933,1859 L935,1862" stroke="#111" stroke-width="1.1" fill="none" stroke-linejoin="round" stroke-linecap="round" />
<ellipse cx="911" cy="1832.5" rx="2" ry="3" stroke="#111" stroke-width="1.2" fill="none" transform="rotate(-20 911 1832.5)" />
<ellipse cx="939.5" cy="1850" rx="1.5" ry="2.5" stroke="#111" stroke-width="1.2" fill="none" transform="rotate(-20 939.5 1850)" />
<path d="M794.2,1857.4 C797,1851 800,1848 802.5,1847 L812.8,1853 C811,1857 811,1860 812,1861.5 C816,1865 822,1865 830.4,1864.6 L845,1871.8 C847,1880 848,1888 848,1896.7 L848,1942 C846,1950 840,1956 820,1961 C808,1961 800,1958 797.3,1954.7 C790,1945 787,1935 787,1927.7 L786,1876 C788,1868 791,1862 794.2,1857.4 Z" stroke="#111" stroke-width="1.6" fill="#fff" stroke-linejoin="round" stroke-linecap="round" />
<path d="M794.2,1857.4 C800,1866 812,1872 830,1873 C838,1873 843,1872 845,1871.8" stroke="#111" stroke-width="1.5" fill="none" stroke-linejoin="round" stroke-linecap="round" />
<path d="M786.5,1884 C800,1896 830,1900 848,1894 M787,1928 C800,1940 830,1944 848,1938" stroke="#111" stroke-width="1.5" fill="none" stroke-linejoin="round" stroke-linecap="round" />
<path d="M812.8,1853 C809,1855 808,1858 810,1862" stroke="#111" stroke-width="1.2" fill="none" stroke-linejoin="round" stroke-linecap="round" />
<path d="M814,1913 C806,1913 804,1920 806,1925 C808,1929 814,1930 822,1929.8 L837.7,1928.5 L837.7,1913 C830,1912 820,1913 814,1913 Z" stroke="#111" stroke-width="1.5" fill="#fff" stroke-linejoin="round" stroke-linecap="round" />
<path d="M826,1913 C826,1922 832,1927 837.7,1928.5 M835,1913 L835,1928" stroke="#111" stroke-width="1.2" fill="none" stroke-linejoin="round" stroke-linecap="round" />
<path d="M829,1917 C829,1914 833,1914 833,1917" stroke="#111" stroke-width="1.1" fill="none" stroke-linejoin="round" stroke-linecap="round" />
<ellipse cx="787" cy="1900" rx="1" ry="3" stroke="#111" stroke-width="1.5" fill="#111" />
<path d="M868,1948 L877,1940 L898,1940 L906.6,1948 L906.6,1968 L898,1973.2 L877,1973.2 L868,1968 Z" stroke="#111" stroke-width="1.5" fill="#fff" stroke-linejoin="round" stroke-linecap="round" />
<path d="M877,1952 L877,1972 M898,1952 L898,1972 M868,1948 L877,1952 L898,1952 L906.6,1948" stroke="#111" stroke-width="1.2" fill="none" stroke-linejoin="round" stroke-linecap="round" />
<ellipse cx="887.5" cy="1945" rx="10.5" ry="4" stroke="#111" stroke-width="1.3" fill="#fff" />
<path d="M878,1990.6 L878,2007.1 Q887.6,2015.1 897.3,2007.1 L897.3,1990.6" stroke="#111" stroke-width="1.5" fill="#fff" stroke-linejoin="round" stroke-linecap="round" />
<ellipse cx="887.6" cy="1990.6" rx="9.7" ry="4.5" stroke="#111" stroke-width="1.6" fill="#333" />
<ellipse cx="887.6" cy="1990.6" rx="6.7" ry="2.5" stroke="#777" stroke-width="0.8" fill="#777" />
<path d="M878,2003.1 Q887.6,2011.1 897.3,2003.1" stroke="#111" stroke-width="1.3" fill="none" stroke-linejoin="round" stroke-linecap="round" />
<ellipse cx="888.5" cy="2029.7" rx="13.5" ry="7" stroke="#111" stroke-width="1.7" fill="#fff" />
<ellipse cx="888.5" cy="2029.7" rx="9.5" ry="4.5" stroke="#111" stroke-width="1.3" fill="none" />
<path d="M878,2034.7 L881,2043.7 Q888.5,2050 896,2043.7 L899,2034.7" stroke="#111" stroke-width="1.4" fill="none" stroke-linejoin="round" stroke-linecap="round" />
<path d="M884.5,2037.7 L885.5,2048 M892.5,2037.7 L891.5,2048" stroke="#111" stroke-width="1.1" fill="none" stroke-linejoin="round" stroke-linecap="round" />
<path d="M656,1861.4 L656,1877.9 Q665.6,1885.9 675.3,1877.9 L675.3,1861.4" stroke="#111" stroke-width="1.5" fill="#fff" stroke-linejoin="round" stroke-linecap="round" />
<ellipse cx="665.6" cy="1861.4" rx="9.7" ry="4.5" stroke="#111" stroke-width="1.6" fill="#333" />
<ellipse cx="665.6" cy="1861.4" rx="6.7" ry="2.5" stroke="#777" stroke-width="0.8" fill="#777" />
<path d="M656,1873.9 Q665.6,1881.9 675.3,1873.9" stroke="#111" stroke-width="1.3" fill="none" stroke-linejoin="round" stroke-linecap="round" />
<ellipse cx="665.5" cy="1901.4" rx="13.5" ry="7" stroke="#111" stroke-width="1.7" fill="#fff" />
<ellipse cx="665.5" cy="1901.4" rx="9.5" ry="4.5" stroke="#111" stroke-width="1.3" fill="none" />
<path d="M655,1906.4 L658,1915.4 Q665.5,1921.7 673,1915.4 L676,1906.4" stroke="#111" stroke-width="1.4" fill="none" stroke-linejoin="round" stroke-linecap="round" />
<path d="M661.5,1909.4 L662.5,1919.7 M669.5,1909.4 L668.5,1919.7" stroke="#111" stroke-width="1.1" fill="none" stroke-linejoin="round" stroke-linecap="round" />
<rect x="655" y="995" width="20.7" height="770" rx="0" stroke="#111" stroke-width="1.6" fill="#fff"/>
<path d="M658.2,952.3 L658.2,963.3 L655.9,964.3 L655.9,978.3 L654.4,980.3 L654.4,985.3 C653.4,993.3 653.4,1003.3 654.4,1008.3 A11,4.5 0 0 0 676.4,1008.3 C677.4,1003.3 677.4,993.3 676.4,985.3 L676.4,980.3 L674.9,978.3 L674.9,964.3 L672.6,963.3 L672.6,952.3 Z" stroke="#111" stroke-width="1.7" fill="#fff" stroke-linejoin="round" stroke-linecap="round" />
<ellipse cx="665.4" cy="952.3" rx="7.2" ry="4" stroke="#111" stroke-width="2.2" fill="#fff" />
<ellipse cx="665.4" cy="952.3" rx="3.5" ry="2" stroke="#111" stroke-width="1.1" fill="none" />
<path d="M658.2,963.3 A7.2,3 0 0 0 672.6,963.3" stroke="#111" stroke-width="1.4" fill="none" stroke-linejoin="round" stroke-linecap="round" />
<path d="M655.9,966.3 A9.5,4 0 0 0 674.9,966.3" stroke="#111" stroke-width="2.4" fill="none" stroke-linejoin="round" stroke-linecap="round" />
<path d="M655.9,970.3 A9.5,4 0 0 0 674.9,970.3" stroke="#111" stroke-width="1.4" fill="none" stroke-linejoin="round" stroke-linecap="round" />
<path d="M655.9,973.3 A9.5,4 0 0 0 674.9,973.3" stroke="#111" stroke-width="2.4" fill="none" stroke-linejoin="round" stroke-linecap="round" />
<path d="M655.9,977.3 A9.5,4 0 0 0 674.9,977.3" stroke="#111" stroke-width="1.4" fill="none" stroke-linejoin="round" stroke-linecap="round" />
<path d="M654.4,980.3 A11,4.6 0 0 0 676.4,980.3" stroke="#111" stroke-width="1.5" fill="none" stroke-linejoin="round" stroke-linecap="round" />
<path d="M654.4,985.3 A11,4.6 0 0 0 676.4,985.3" stroke="#111" stroke-width="1.6" fill="none" stroke-linejoin="round" stroke-linecap="round" />
<path d="M657.9,989.3 L657.9,1002.3" stroke="#111" stroke-width="1.5" fill="none" stroke-linejoin="round" stroke-linecap="round" />
<path d="M661.4,989.3 L661.4,1002.3" stroke="#111" stroke-width="1.5" fill="none" stroke-linejoin="round" stroke-linecap="round" />
<path d="M665.4,989.3 L665.4,1002.3" stroke="#111" stroke-width="1.5" fill="none" stroke-linejoin="round" stroke-linecap="round" />
<path d="M669.4,989.3 L669.4,1002.3" stroke="#111" stroke-width="1.5" fill="none" stroke-linejoin="round" stroke-linecap="round" />
<path d="M672.9,989.3 L672.9,1002.3" stroke="#111" stroke-width="1.5" fill="none" stroke-linejoin="round" stroke-linecap="round" />
<circle cx="658.9" cy="1004.8" r="2.3" fill="#fff" stroke="#111" stroke-width="1.3"/>
<circle cx="665.4" cy="1004.8" r="2.3" fill="#fff" stroke="#111" stroke-width="1.3"/>
<circle cx="671.9" cy="1004.8" r="2.3" fill="#fff" stroke="#111" stroke-width="1.3"/>
<path d="M654.4,988.3 A11,4.6 0 0 0 676.4,988.3" stroke="#111" stroke-width="1.3" fill="none" stroke-linejoin="round" stroke-linecap="round" />
<path d="M654.9,1763 L654.9,1775 L655.9,1777 C652.9,1783 652.9,1795 654.9,1800 L654.9,1811 L675.9,1811 L675.9,1800 C677.9,1795 677.9,1783 674.9,1777 L675.9,1775 L675.9,1763" stroke="#111" stroke-width="1.6" fill="#fff" stroke-linejoin="round" stroke-linecap="round" />
<path d="M654.9,1764 A10.5,4.4 0 0 0 675.9,1764" stroke="#111" stroke-width="1.4" fill="none" stroke-linejoin="round" stroke-linecap="round" />
<path d="M654.9,1771 A10.5,4.4 0 0 0 675.9,1771" stroke="#111" stroke-width="1.5" fill="none" stroke-linejoin="round" stroke-linecap="round" />
<path d="M655.9,1777 A9.5,4 0 0 0 674.9,1777" stroke="#111" stroke-width="1.4" fill="none" stroke-linejoin="round" stroke-linecap="round" />
<path d="M657.4,1781 L657.4,1794" stroke="#111" stroke-width="1.4" fill="none" stroke-linejoin="round" stroke-linecap="round" />
<path d="M661.4,1781 L661.4,1794" stroke="#111" stroke-width="1.4" fill="none" stroke-linejoin="round" stroke-linecap="round" />
<path d="M665.4,1781 L665.4,1794" stroke="#111" stroke-width="1.4" fill="none" stroke-linejoin="round" stroke-linecap="round" />
<path d="M669.4,1781 L669.4,1794" stroke="#111" stroke-width="1.4" fill="none" stroke-linejoin="round" stroke-linecap="round" />
<path d="M673.4,1781 L673.4,1794" stroke="#111" stroke-width="1.4" fill="none" stroke-linejoin="round" stroke-linecap="round" />
<circle cx="658.9" cy="1796" r="2.3" fill="#fff" stroke="#111" stroke-width="1.3"/>
<circle cx="665.4" cy="1796" r="2.3" fill="#fff" stroke="#111" stroke-width="1.3"/>
<circle cx="671.9" cy="1796" r="2.3" fill="#fff" stroke="#111" stroke-width="1.3"/>
<path d="M654.9,1800 A10.5,4.4 0 0 0 675.9,1800" stroke="#111" stroke-width="1.4" fill="none" stroke-linejoin="round" stroke-linecap="round" />
<path d="M646,1815 L656.5,1807 L674.5,1807 L685,1815 L685,1837 L672.1,1845 L658.9,1845 L646,1837 Z" stroke="#111" stroke-width="1.5" fill="#fff" stroke-linejoin="round" stroke-linecap="round" />
<path d="M646,1815 L653.8,1821 L669.4,1821 L685,1815 M653.8,1821 L658.9,1845 M669.4,1821 L672.1,1845" stroke="#111" stroke-width="1.2" fill="none" stroke-linejoin="round" stroke-linecap="round" />
<ellipse cx="665.4" cy="1810" rx="10.5" ry="4" stroke="#111" stroke-width="1.3" fill="#fff" />
<path d="M655,1798 L655,1810 M676,1798 L676,1810" stroke="#111" stroke-width="1.4" fill="none" stroke-linejoin="round" stroke-linecap="round" />
<rect x="1098.7" y="1335" width="22.3" height="158" rx="0" stroke="#111" stroke-width="1.6" fill="#fff"/>
<path d="M1102.6,1285.6 L1102.6,1296.6 L1100.3,1297.6 L1100.3,1311.6 L1098.8,1313.6 L1098.8,1318.6 C1097.8,1326.6 1097.8,1336.6 1098.8,1341.6 A11,4.5 0 0 0 1120.8,1341.6 C1121.8,1336.6 1121.8,1326.6 1120.8,1318.6 L1120.8,1313.6 L1119.3,1311.6 L1119.3,1297.6 L1117,1296.6 L1117,1285.6 Z" stroke="#111" stroke-width="1.7" fill="#fff" stroke-linejoin="round" stroke-linecap="round" />
<ellipse cx="1109.8" cy="1285.6" rx="7.2" ry="4" stroke="#111" stroke-width="2.2" fill="#fff" />
<ellipse cx="1109.8" cy="1285.6" rx="3.5" ry="2" stroke="#111" stroke-width="1.1" fill="none" />
<path d="M1102.6,1296.6 A7.2,3 0 0 0 1117,1296.6" stroke="#111" stroke-width="1.4" fill="none" stroke-linejoin="round" stroke-linecap="round" />
<path d="M1100.3,1299.6 A9.5,4 0 0 0 1119.3,1299.6" stroke="#111" stroke-width="2.4" fill="none" stroke-linejoin="round" stroke-linecap="round" />
<path d="M1100.3,1303.6 A9.5,4 0 0 0 1119.3,1303.6" stroke="#111" stroke-width="1.4" fill="none" stroke-linejoin="round" stroke-linecap="round" />
<path d="M1100.3,1306.6 A9.5,4 0 0 0 1119.3,1306.6" stroke="#111" stroke-width="2.4" fill="none" stroke-linejoin="round" stroke-linecap="round" />
<path d="M1100.3,1310.6 A9.5,4 0 0 0 1119.3,1310.6" stroke="#111" stroke-width="1.4" fill="none" stroke-linejoin="round" stroke-linecap="round" />
<path d="M1098.8,1313.6 A11,4.6 0 0 0 1120.8,1313.6" stroke="#111" stroke-width="1.5" fill="none" stroke-linejoin="round" stroke-linecap="round" />
<path d="M1098.8,1318.6 A11,4.6 0 0 0 1120.8,1318.6" stroke="#111" stroke-width="1.6" fill="none" stroke-linejoin="round" stroke-linecap="round" />
<path d="M1102.3,1322.6 L1102.3,1335.6" stroke="#111" stroke-width="1.5" fill="none" stroke-linejoin="round" stroke-linecap="round" />
<path d="M1105.8,1322.6 L1105.8,1335.6" stroke="#111" stroke-width="1.5" fill="none" stroke-linejoin="round" stroke-linecap="round" />
<path d="M1109.8,1322.6 L1109.8,1335.6" stroke="#111" stroke-width="1.5" fill="none" stroke-linejoin="round" stroke-linecap="round" />
<path d="M1113.8,1322.6 L1113.8,1335.6" stroke="#111" stroke-width="1.5" fill="none" stroke-linejoin="round" stroke-linecap="round" />
<path d="M1117.3,1322.6 L1117.3,1335.6" stroke="#111" stroke-width="1.5" fill="none" stroke-linejoin="round" stroke-linecap="round" />
<circle cx="1103.3" cy="1338.1" r="2.3" fill="#fff" stroke="#111" stroke-width="1.3"/>
<circle cx="1109.8" cy="1338.1" r="2.3" fill="#fff" stroke="#111" stroke-width="1.3"/>
<circle cx="1116.3" cy="1338.1" r="2.3" fill="#fff" stroke="#111" stroke-width="1.3"/>
<path d="M1098.8,1321.6 A11,4.6 0 0 0 1120.8,1321.6" stroke="#111" stroke-width="1.3" fill="none" stroke-linejoin="round" stroke-linecap="round" />
<path d="M1097,1493 L1097,1540 Q1109.8,1552 1122.5,1540 L1122.5,1493 Q1109.8,1503 1097,1493 Z" stroke="#111" stroke-width="1.6" fill="#fff" stroke-linejoin="round" stroke-linecap="round" />
<path d="M1096,1510 L1123,1510 M1100,1515 L1100,1525 M1106,1512 L1106,1528 M1113,1512 L1113,1528 M1119,1515 L1119,1525" stroke="#111" stroke-width="1.2" fill="none" stroke-linejoin="round" stroke-linecap="round" />
<path d="M1094,1528 L1094,1548 Q1110,1562 1125,1548 L1125,1528 Q1110,1536 1094,1528 Z" stroke="#111" stroke-width="1.6" fill="#fff" stroke-linejoin="round" stroke-linecap="round" />
<path d="M1098,1534 L1106,1540 M1121,1534 L1113,1540 M1106,1540 L1106,1548 M1113,1540 L1113,1548" stroke="#111" stroke-width="1.2" fill="none" stroke-linejoin="round" stroke-linecap="round" />
<ellipse cx="1109.5" cy="1572.2" rx="10.5" ry="6.3" stroke="#111" stroke-width="2.6" fill="#fff" />
<ellipse cx="1109.5" cy="1571.5" rx="6" ry="3.3" stroke="#111" stroke-width="1.3" fill="none" />
<ellipse cx="1109.5" cy="1599" rx="10.8" ry="7" stroke="#111" stroke-width="1.6" fill="#fff" />
<ellipse cx="1109.5" cy="1599" rx="7.5" ry="4.5" stroke="#111" stroke-width="1.3" fill="none" />
<ellipse cx="1109.5" cy="1624" rx="10.8" ry="7" stroke="#111" stroke-width="1.6" fill="#fff" />
<ellipse cx="1109.5" cy="1623" rx="6.5" ry="4" stroke="#111" stroke-width="1.5" fill="none" />
<path d="M1099,1626 Q1109.5,1636 1120,1626" stroke="#111" stroke-width="1.2" fill="none" stroke-linejoin="round" stroke-linecap="round" />
<path d="M1092.5,1650 L1096,1642 C1100,1636 1120,1636 1124,1642 L1127.2,1650 L1127.2,1670 L1118,1680.5 L1101,1680.5 L1092.5,1670 Z" stroke="#111" stroke-width="1.6" fill="#fff" stroke-linejoin="round" stroke-linecap="round" />
<ellipse cx="1109.8" cy="1645" rx="12.5" ry="6.5" stroke="#111" stroke-width="1.4" fill="#fff" />
<ellipse cx="1109.8" cy="1645" rx="9.5" ry="4.5" stroke="#111" stroke-width="1.2" fill="none" />
<path d="M1092.5,1650 L1101,1655 L1120,1655 L1127.2,1650 M1101,1655 L1101,1680 M1120,1655 L1118,1680" stroke="#111" stroke-width="1.2" fill="none" stroke-linejoin="round" stroke-linecap="round" />
<path d="M1102.2,1695 L1102.2,1721 M1116.5,1695 L1116.5,1721" stroke="#111" stroke-width="1.5" fill="none" stroke-linejoin="round" stroke-linecap="round" />
<ellipse cx="1109.4" cy="1694" rx="7.2" ry="3.5" stroke="#111" stroke-width="1.6" fill="#fff" />
<ellipse cx="1109.4" cy="1694" rx="4" ry="2" stroke="#111" stroke-width="1" fill="none" />
<ellipse cx="1109.8" cy="1723" rx="10.5" ry="4" stroke="#111" stroke-width="1.8" fill="#fff" />
<path d="M1102,1727 L1102,1732 M1117,1727 L1117,1732" stroke="#111" stroke-width="1.4" fill="none" stroke-linejoin="round" stroke-linecap="round" />
<path d="M1099.5,1734 L1099.5,1772 Q1110,1778 1120.5,1772 L1120.5,1734" stroke="#111" stroke-width="1.6" fill="#fff" stroke-linejoin="round" stroke-linecap="round" />
<ellipse cx="1110" cy="1734" rx="10.5" ry="4" stroke="#111" stroke-width="1.8" fill="#fff" />
<path d="M1099.5,1742 Q1110,1748 1120.5,1742 M1099.5,1757 Q1110,1763 1120.5,1757 M1099.5,1762 Q1110,1768 1120.5,1762 M1099.5,1767 Q1110,1773 1120.5,1767" stroke="#111" stroke-width="1.5" fill="none" stroke-linejoin="round" stroke-linecap="round" />
<path d="M1275,28 C1280,36 1300,40 1312,34 L1316,28" stroke="#111" stroke-width="1.4" fill="#fff" stroke-linejoin="round" stroke-linecap="round" />
<ellipse cx="1294.7" cy="19.5" rx="25.5" ry="13.2" stroke="#111" stroke-width="1.5" fill="#fff" />
<path d="M1289,33 L1289,40 L1296,40.5 L1296,34 M1303,33 L1303,39 L1309,38 L1309,30" stroke="#111" stroke-width="1.3" fill="none" stroke-linejoin="round" stroke-linecap="round" />
<ellipse cx="1297.7" cy="72" rx="24" ry="14.3" stroke="#111" stroke-width="3" fill="#fff" />
<ellipse cx="1297.7" cy="70.5" rx="20" ry="10" stroke="#111" stroke-width="1.3" fill="none" />
<path d="M1274.5,75 C1278,88 1318,88 1321,75" stroke="#111" stroke-width="1.2" fill="none" stroke-linejoin="round" stroke-linecap="round" />
<path d="M1275,120 L1276,135 C1280,148 1322,150 1325,135 L1326.5,120" stroke="#111" stroke-width="1.5" fill="#fff" stroke-linejoin="round" stroke-linecap="round" />
<ellipse cx="1300.7" cy="120" rx="25.8" ry="11.7" stroke="#111" stroke-width="1.5" fill="#fff" />
<ellipse cx="1300.7" cy="123" rx="22" ry="8.5" stroke="#111" stroke-width="1.2" fill="none" />
<ellipse cx="1300.7" cy="126" rx="18" ry="6.5" stroke="#111" stroke-width="1.2" fill="none" />
<ellipse cx="1300.7" cy="128.5" rx="15" ry="5" stroke="#111" stroke-width="1.2" fill="none" />
<path d="M1279,137 C1282,145 1318,147 1323,137" stroke="#111" stroke-width="1.2" fill="none" stroke-linejoin="round" stroke-linecap="round" />
<ellipse cx="1304.6" cy="181.2" rx="21" ry="11" stroke="#111" stroke-width="3.2" fill="none" />
<ellipse cx="1306.7" cy="217.7" rx="23.5" ry="13" stroke="#111" stroke-width="3" fill="#fff" />
<ellipse cx="1306.7" cy="216.5" rx="19.5" ry="9.5" stroke="#111" stroke-width="1.3" fill="none" />
<path d="M1301,250 L1302,264 Q1309,272 1316,264 L1317,250" stroke="#111" stroke-width="1.4" fill="#fff" stroke-linejoin="round" stroke-linecap="round" />
<path d="M1300.5,250 L1303,246 L1314,246 L1316.5,250 L1314,256 L1303,256 Z" stroke="#111" stroke-width="1.4" fill="#fff" stroke-linejoin="round" stroke-linecap="round" />
<ellipse cx="1308.6" cy="249" rx="4" ry="2.2" stroke="#111" stroke-width="1.1" fill="none" />
<path d="M1290,300 L1289.5,322 C1292,334 1336,334 1338,322 L1337.5,300" stroke="#111" stroke-width="1.6" fill="#fff" stroke-linejoin="round" stroke-linecap="round" />
<path d="M1291,295 C1291,285 1300,277 1313,277 C1328,277 1336,285 1336,295 L1337.5,305 C1332,315 1295,315 1290,305 Z" stroke="#111" stroke-width="1.6" fill="#fff" stroke-linejoin="round" stroke-linecap="round" />
<ellipse cx="1313" cy="289" rx="18" ry="9" stroke="#111" stroke-width="1.3" fill="none" />
<ellipse cx="1313" cy="289" rx="7" ry="3.6" stroke="#111" stroke-width="1.3" fill="none" />
<path d="M1298,285 L1305,292 M1326,283 L1320,290 M1330,293 L1332,305" stroke="#111" stroke-width="1.2" fill="none" stroke-linejoin="round" stroke-linecap="round" />
<path d="M1290,312 C1295,322 1332,322 1337.5,312 M1300,318 L1300,332 M1313,320 L1313,333 M1327,318 L1327,332" stroke="#111" stroke-width="1.3" fill="none" stroke-linejoin="round" stroke-linecap="round" />
<path d="M1298,360 L1298,378 C1300,388 1332,388 1334,378 L1334,360" stroke="#111" stroke-width="1.6" fill="#fff" stroke-linejoin="round" stroke-linecap="round" />
<ellipse cx="1316" cy="360" rx="18" ry="7.5" stroke="#111" stroke-width="2.2" fill="#fff" />
<path d="M1297.5,364 C1302,372 1330,372 1334.5,364" stroke="#111" stroke-width="2.6" fill="none" stroke-linejoin="round" stroke-linecap="round" />
<path d="M1297.5,368.5 C1302,376.5 1330,376.5 1334.5,368.5" stroke="#111" stroke-width="2.6" fill="none" stroke-linejoin="round" stroke-linecap="round" />
<path d="M1297.5,373 C1302,381 1330,381 1334.5,373" stroke="#111" stroke-width="2.6" fill="none" stroke-linejoin="round" stroke-linecap="round" />
<path d="M1297.5,377.5 C1302,385.5 1330,385.5 1334.5,377.5" stroke="#111" stroke-width="2.6" fill="none" stroke-linejoin="round" stroke-linecap="round" />
<path d="M1297.5,382 C1302,390 1330,390 1334.5,382" stroke="#111" stroke-width="2.6" fill="none" stroke-linejoin="round" stroke-linecap="round" />
<ellipse cx="1316" cy="366" rx="10" ry="4" stroke="#111" stroke-width="1.6" fill="none" />
<path d="M1296.6,420 L1297,428 C1300,440 1336,440 1340,428 L1340,420" stroke="#111" stroke-width="1.6" fill="#fff" stroke-linejoin="round" stroke-linecap="round" />
<path d="M1300,413 L1302,404 C1306,398 1330,398 1334,404 L1338,413 L1336,420 L1318,424 L1300,420 Z" stroke="#111" stroke-width="1.6" fill="#fff" stroke-linejoin="round" stroke-linecap="round" />
<ellipse cx="1318" cy="404" rx="15" ry="5" stroke="#111" stroke-width="1.4" fill="none" />
<path d="M1302,413 L1318,414 L1336,412 M1318,414 L1318,424" stroke="#111" stroke-width="1.2" fill="none" stroke-linejoin="round" stroke-linecap="round" />
<ellipse cx="1318.4" cy="420" rx="21.7" ry="9" stroke="#111" stroke-width="1.3" fill="none" />
<path d="M1315.5,451 L1315.5,460 M1325.3,451 L1325.3,460" stroke="#111" stroke-width="1.6" fill="none" stroke-linejoin="round" stroke-linecap="round" />
<ellipse cx="1320.4" cy="451" rx="5" ry="3" stroke="#111" stroke-width="1.8" fill="#fff" />
<ellipse cx="1320.4" cy="451" rx="1.8" ry="1" stroke="#111" stroke-width="1" fill="none" />
<path d="M1315.5,454 Q1320.4,456 1325.3,454" stroke="#111" stroke-width="1.1" fill="none" stroke-linejoin="round" stroke-linecap="round" />
<path d="M1315.5,456.5 Q1320.4,458.5 1325.3,456.5" stroke="#111" stroke-width="1.1" fill="none" stroke-linejoin="round" stroke-linecap="round" />
<path d="M1315.5,459 Q1320.4,461 1325.3,459" stroke="#111" stroke-width="1.1" fill="none" stroke-linejoin="round" stroke-linecap="round" />
<path d="M1305.2,484 L1306.5,490 L1305.4,508 C1306,512 1307.5,511 1308,511 L1316.2,522.8 L1316.5,528 C1318,533 1332,533 1333.3,528 L1333.3,522.8 L1339,511 C1340.5,510 1341,508 1340.6,505 L1339,490 L1340.5,484 L1338,466 C1336,460 1306,460 1304.8,466 Z" stroke="#111" stroke-width="1.7" fill="#fff" stroke-linejoin="round" stroke-linecap="round" />
<path d="M1310,470.5 L1308.5,462 L1314,457.5 L1326,457.5 L1331.5,462 L1330,470.5 Z" stroke="#111" stroke-width="1.5" fill="#fff" stroke-linejoin="round" stroke-linecap="round" />
<path d="M1314,463 L1326,463 M1314,463 L1310,470.5 M1326,463 L1330,470.5 M1316,463 L1316,470 M1324,463 L1324,470" stroke="#111" stroke-width="1.2" fill="none" stroke-linejoin="round" stroke-linecap="round" />
<path d="M1305,469 C1308,472 1312,474 1317,475 L1317.3,483 C1312,482 1307,480 1305,477 Z M1340,469 C1337,472 1332,474 1326,475 L1325.5,483 C1331,482 1337,480 1340.2,477 Z M1318,470.5 L1324,470.5 L1324,474 L1318,474 Z" fill="#111"/>
<path d="M1306,489.7 C1312,496 1334,496 1339.5,489.7" stroke="#111" stroke-width="1.6" fill="none" stroke-linejoin="round" stroke-linecap="round" />
<path d="M1305.4,491 C1312,498 1334,498 1340.6,491 L1340.6,496 C1334,503 1312,503 1305.4,496 Z M1306,503 C1312,510 1334,510 1340,503 L1340,507 C1334,514 1312,514 1306,507 Z" fill="#111"/>
<path d="M1311,497 L1316,498 L1316,504 L1311,503 Z M1328,498 L1333,497 L1333,503 L1328,504 Z M1321,498 L1324,498 L1324,510 L1321,510 Z" fill="#fff" stroke="#111" stroke-width="0.9"/>
<path d="M1308,511 C1314,516 1332,516 1339,511 L1333.3,522.8 C1328,526 1321,526 1316.2,522.8 Z" fill="#222"/>
<path d="M1316.5,523 C1321,526 1328,526 1333.3,523 L1333.3,528 C1332,533 1318,533 1316.5,528 Z" fill="#333"/>
<ellipse cx="1325" cy="528" rx="7" ry="2.5" stroke="#fff" stroke-width="1" fill="none" />
<path d="M1299.3,559.6 L1300.2,569.8 L1301.6,626.7 L1302.5,701.4 C1303,709 1314,714.3 1327.4,714.3 C1342,714.3 1352.5,709 1352.5,701.4 L1349.1,559.6 Z" stroke="#111" stroke-width="1.7" fill="#fff" stroke-linejoin="round" stroke-linecap="round" />
<ellipse cx="1324.2" cy="559.1" rx="24.9" ry="14" stroke="#111" stroke-width="2.6" fill="#fff" />
<ellipse cx="1324.2" cy="558.5" rx="21" ry="10.5" stroke="#111" stroke-width="1.2" fill="none" />
<path d="M1298.8,569.4 L1274.6,561.4 C1268,559.5 1262,561 1259,565 C1254,572 1252.5,580 1253.6,590 C1254.5,600 1260,606 1267,609.4 L1293.2,617.3 C1297,619 1300,622 1301.6,626.7" stroke="#111" stroke-width="1.7" fill="#fff" stroke-linejoin="round" stroke-linecap="round" />
<path d="M1300.2,577.3 C1294,580 1293,596 1297.9,605 C1299,610 1297,615 1295,616.4 M1302.5,588.5 C1306,600 1307,612 1305.3,622 C1305,625 1303,626 1301.6,626.7" stroke="#111" stroke-width="1.2" fill="none" stroke-linejoin="round" stroke-linecap="round" />
<path d="M1236,562 L1259.5,564.5 M1236,596 L1255,598" stroke="#111" stroke-width="1.6" fill="none" stroke-linejoin="round" stroke-linecap="round" />
<path d="M1236,562 L1259.5,564.5 C1254,572 1252.5,580 1253.6,590 C1254,594 1254.5,596 1255,598 L1236,596 Z" fill="#fff"/>
<ellipse cx="1233.6" cy="579.1" rx="5" ry="17" stroke="#111" stroke-width="2.6" fill="#fff" />
<ellipse cx="1235" cy="579.1" rx="3" ry="14" stroke="#111" stroke-width="1.2" fill="none" />
<path d="M1240,574 L1254,578 M1240,580 L1254,586 M1241,586 L1254,592" stroke="#111" stroke-width="1.3" fill="none" stroke-linejoin="round" stroke-linecap="round" />
<path d="M1338.5,606 C1338,602 1343,600 1346,602 L1349,606 L1350,682 C1348,686 1341,686 1340,682 Z" stroke="#111" stroke-width="1.5" fill="#fff" stroke-linejoin="round" stroke-linecap="round" />
<path d="M1343,604 L1344,685" stroke="#111" stroke-width="1.2" fill="none" stroke-linejoin="round" stroke-linecap="round" />
<path d="M1244.5,635 C1243,650 1252,652 1258,651 C1266,649 1270,640 1268,630 L1264,622 L1261,624 C1264,632 1264,642 1258,646 C1252,649 1248,645 1248,636 Z" stroke="#111" stroke-width="1.5" fill="#fff" stroke-linejoin="round" stroke-linecap="round" />
<ellipse cx="1326.7" cy="737" rx="11.5" ry="6.4" stroke="#111" stroke-width="1.6" fill="none" />
<path d="M1313.5,756 L1314,775 C1318,782 1336,782 1340,775 L1340,756" stroke="#111" stroke-width="1.6" fill="#fff" stroke-linejoin="round" stroke-linecap="round" />
<ellipse cx="1327" cy="756" rx="13.5" ry="7.5" stroke="#111" stroke-width="1.7" fill="#fff" />
<ellipse cx="1327" cy="756" rx="10" ry="5" stroke="#111" stroke-width="0" fill="#222" />
<path d="M1314,766 C1318,772 1336,772 1340,766 M1314,771 C1318,777 1336,777 1340,771 M1334,760 L1336,772" stroke="#111" stroke-width="1.3" fill="none" stroke-linejoin="round" stroke-linecap="round" />
<path d="M1304,796 L1304,823 C1310,834 1342,834 1347,823 L1347,796" stroke="#111" stroke-width="1.6" fill="#fff" stroke-linejoin="round" stroke-linecap="round" />
<path d="M1304,796 a21.5,11 0 1 0 43,0 a21.5,11 0 1 0 -43,0 Z M1309.5,798.5 a16,7.8 0 1 0 32,0 a16,7.8 0 1 0 -32,0 Z" fill="#111" fill-rule="evenodd"/>
<path d="M1325,784 L1330,798" stroke="#fff" stroke-width="1.1" fill="none" stroke-linejoin="round" stroke-linecap="round" />
<path d="M1303,876 C1296,877 1287,880 1283.5,885.6 L1285,892 L1287,891.8 C1290,888 1295,886 1304.2,884" stroke="#111" stroke-width="1.5" fill="#fff" stroke-linejoin="round" stroke-linecap="round" />
<path d="M1316,882.5 C1308,885 1302,890 1300,895 L1302,900 L1304,899.5 C1307,895 1312,892 1320,890" stroke="#111" stroke-width="1.5" fill="#fff" stroke-linejoin="round" stroke-linecap="round" />
<path d="M1346.6,863.9 C1352,862 1357,860 1361,857.7 L1361.6,863.9 C1357,867 1352,869 1348.7,869" stroke="#111" stroke-width="1.5" fill="#fff" stroke-linejoin="round" stroke-linecap="round" />
<path d="M1337,857 L1339,852 C1342,851 1346,850.4 1347.6,852 L1347,857.7" stroke="#111" stroke-width="1.4" fill="#fff" stroke-linejoin="round" stroke-linecap="round" />
<ellipse cx="1325" cy="870" rx="23.8" ry="12.5" stroke="#111" stroke-width="1.6" fill="#fff" />
<ellipse cx="1325.5" cy="872" rx="19" ry="8.5" stroke="#111" stroke-width="1.3" fill="none" />
<ellipse cx="1325.7" cy="872.5" rx="14.5" ry="5" stroke="#111" stroke-width="1.5" fill="none" />
<path d="M1306,860 L1308,856 M1340,857 L1343,860 M1304,868 L1307,870 M1344,870 L1341,872" stroke="#111" stroke-width="1.2" fill="none" stroke-linejoin="round" stroke-linecap="round" />
<path d="M1155.2,813.9 C1175,798 1195,780 1209.3,771.7 L1292.4,733.6 L1297.6,738.7 L1244.6,815 C1230,830 1215,845 1196.2,858.9 Z" stroke="#111" stroke-width="1.7" fill="#fff" stroke-linejoin="round" stroke-linecap="round" />
<ellipse cx="1177" cy="836.5" rx="11" ry="32" stroke="#111" stroke-width="2.2" fill="#fff" transform="rotate(-41 1177 836.5)" />
<ellipse cx="1182" cy="832" rx="6" ry="24" stroke="#111" stroke-width="1.6" fill="none" transform="rotate(-41 1182 832)" />
<path d="M1185,793 L1202,774 M1196,791 L1210,775 M1202,801 L1220,774 M1213,789 L1229,768 M1263,751 L1290,742 M1275,765 L1292,745 M1217,818 L1245,806 M1222,826 L1243,815 M1222,837 L1240,826 M1264,781 L1245,812" stroke="#111" stroke-width="1.3" fill="none" stroke-linejoin="round" stroke-linecap="round" />
<ellipse cx="1147.3" cy="776" rx="5.5" ry="6.5" stroke="#111" stroke-width="1.7" fill="none" transform="rotate(-41 1147.3 776)" />
<ellipse cx="1147.6" cy="775.5" rx="2.5" ry="3" stroke="#111" stroke-width="1.3" fill="none" transform="rotate(-41 1147.6 775.5)" />
<ellipse cx="1162" cy="763.4" rx="6" ry="7.5" stroke="#111" stroke-width="1.5" fill="none" transform="rotate(-41 1162 763.4)" />
<ellipse cx="1165" cy="761.5" rx="3" ry="4" stroke="#111" stroke-width="1.3" fill="none" transform="rotate(-41 1165 761.5)" />
<ellipse cx="1151.5" cy="859.5" rx="13" ry="33" stroke="#111" stroke-width="1.5" fill="#fff" transform="rotate(-41 1151.5 859.5)" />
<ellipse cx="1149.5" cy="861.5" rx="11.5" ry="30.5" stroke="#111" stroke-width="1.4" fill="none" transform="rotate(-41 1149.5 861.5)" />
<ellipse cx="1153.5" cy="863.5" rx="8" ry="26" stroke="#111" stroke-width="2.8" fill="none" transform="rotate(-41 1153.5 863.5)" />
<ellipse cx="1155.5" cy="861.5" rx="5" ry="18" stroke="#111" stroke-width="1.3" fill="none" transform="rotate(-41 1155.5 861.5)" />
<ellipse cx="1126.4" cy="881" rx="9" ry="24" stroke="#111" stroke-width="1.5" fill="#fff" transform="rotate(-41 1126.4 881)" />
<path d="M1104.6,868.1 L1110.6,862.9 L1142.1,899.1 L1136.1,904.4 Z" stroke="#111" stroke-width="0" fill="#fff" stroke-linejoin="round"/>
<line x1="1104.6" y1="868.1" x2="1110.6" y2="862.9" stroke="#111" stroke-width="1.5"/>
<line x1="1136.1" y1="904.4" x2="1142.1" y2="899.1" stroke="#111" stroke-width="1.5"/>
<path d="M1110.6,862.9 A9,24 -41 0 1 1142.1,899.1" stroke="#111" stroke-width="1.5" fill="none" stroke-linejoin="round" stroke-linecap="round" />
<path d="M1083.6,883.7 L1104.8,865.3 L1138.9,904.6 L1117.8,922.9 Z" stroke="#111" stroke-width="0" fill="#fff" stroke-linejoin="round"/>
<line x1="1083.6" y1="883.7" x2="1104.8" y2="865.3" stroke="#111" stroke-width="1.6"/>
<line x1="1117.8" y1="922.9" x2="1138.9" y2="904.6" stroke="#111" stroke-width="1.6"/>
<path d="M1104.8,865.3 A11,26 -41 0 1 1138.9,904.6" stroke="#111" stroke-width="1.6" fill="none" stroke-linejoin="round" stroke-linecap="round" />
<path d="M1093.5,875.1 A11,26 -41 0 1 1127.6,914.4" stroke="#111" stroke-width="3.2" fill="none" stroke-linejoin="round" stroke-linecap="round" />
<path d="M1096.1,872.8 A11,26 -41 0 1 1130.2,912.1" stroke="#111" stroke-width="3.2" fill="none" stroke-linejoin="round" stroke-linecap="round" />
<path d="M1098.7,870.5 A11,26 -41 0 1 1132.9,909.8" stroke="#111" stroke-width="3.2" fill="none" stroke-linejoin="round" stroke-linecap="round" />
<path d="M1101.4,868.3 A11,26 -41 0 1 1135.5,907.5" stroke="#111" stroke-width="1.6" fill="none" stroke-linejoin="round" stroke-linecap="round" />
<path d="M1088.2,879.7 A11,26 -41 0 1 1122.3,919" stroke="#111" stroke-width="1.2" fill="none" stroke-linejoin="round" stroke-linecap="round" />
<path d="M1089.7,878.4 A11,26 -41 0 1 1123.8,917.7" stroke="#111" stroke-width="1.2" fill="none" stroke-linejoin="round" stroke-linecap="round" />
<ellipse cx="1100.7" cy="903.3" rx="11" ry="26.5" stroke="#111" stroke-width="1.7" fill="#fff" transform="rotate(-41 1100.7 903.3)" />
<ellipse cx="1101.7" cy="902.8" rx="9" ry="23.5" stroke="#111" stroke-width="2.8" fill="none" transform="rotate(-41 1101.7 902.8)" />
<ellipse cx="1104.7" cy="900.3" rx="5" ry="14" stroke="#111" stroke-width="2.2" fill="none" transform="rotate(-41 1104.7 900.3)" />
<path d="M1048.7,921.8 L1057,914.6 L1082.6,944 L1074.3,951.2 Z" stroke="#111" stroke-width="0" fill="#fff" stroke-linejoin="round"/>
<ellipse cx="1069.8" cy="929.3" rx="8.5" ry="19.5" stroke="#111" stroke-width="2.4" fill="#fff" transform="rotate(-41 1069.8 929.3)" />
<line x1="1048.7" y1="921.8" x2="1057" y2="914.6" stroke="#111" stroke-width="2.4"/>
<line x1="1074.3" y1="951.2" x2="1082.6" y2="944" stroke="#111" stroke-width="2.4"/>
<line x1="1054.7" y1="921.2" x2="1063" y2="914" stroke="#111" stroke-width="2.6"/>
<line x1="1061.3" y1="924.8" x2="1069.6" y2="917.5" stroke="#111" stroke-width="2.6"/>
<line x1="1066.6" y1="929.4" x2="1074.9" y2="922.2" stroke="#111" stroke-width="2.6"/>
<line x1="1071" y1="934.9" x2="1079.3" y2="927.7" stroke="#111" stroke-width="2.6"/>
<line x1="1074.4" y1="941.2" x2="1082.7" y2="933.9" stroke="#111" stroke-width="2.6"/>
<line x1="1075.8" y1="946.6" x2="1084.1" y2="939.4" stroke="#111" stroke-width="2.6"/>
<path d="M1051.7,919.2 A8.5,19.5 -41 0 1 1077.3,948.6" stroke="#111" stroke-width="1.6" fill="none" stroke-linejoin="round" stroke-linecap="round" />
<ellipse cx="1061.5" cy="936.5" rx="8.5" ry="19.5" stroke="#111" stroke-width="2" fill="#111" transform="rotate(-41 1061.5 936.5)" />
<ellipse cx="1064.8" cy="935" rx="5.5" ry="16.5" stroke="#111" stroke-width="1.2" fill="#fff" transform="rotate(-41 1064.8 935)" />
<line x1="1062.1" y1="938.7" x2="1063.9" y2="937" stroke="#555" stroke-width="0.8"/>
<line x1="1064.7" y1="941.7" x2="1066.6" y2="940" stroke="#555" stroke-width="0.8"/>
<line x1="1067.3" y1="944.7" x2="1069.2" y2="943.1" stroke="#555" stroke-width="0.8"/>
<path d="M1007.2,973 L1037.4,946.7 L1048.1,956 L1019.9,984.5 Z" stroke="#111" stroke-width="1.6" fill="#fff" stroke-linejoin="round"/>
<line x1="1016.5" y1="971.5" x2="1039.2" y2="951.8" stroke="#111" stroke-width="1.2"/>
<ellipse cx="1036.4" cy="960.8" rx="3.5" ry="5" stroke="#111" stroke-width="1.6" fill="#fff" transform="rotate(-41 1036.4 960.8)" />
<ellipse cx="1036.4" cy="960.8" rx="1.5" ry="2" stroke="#111" stroke-width="1.2" fill="none" transform="rotate(-41 1036.4 960.8)" />
<line x1="1011.9" y1="966.2" x2="1015" y2="963.6" stroke="#111" stroke-width="2.2"/>
<line x1="1018" y1="961" x2="1021" y2="958.3" stroke="#111" stroke-width="2.2"/>
<ellipse cx="1014" cy="977.7" rx="6.1" ry="16" stroke="#111" stroke-width="1.6" fill="#fff" transform="rotate(-41 1014 977.7)" />
<path d="M994.4,973.5 L1003.5,965.6 L1024.5,989.8 L1015.4,997.6" stroke="#111" stroke-width="1.6" fill="#fff" stroke-linejoin="round"/>
<ellipse cx="1004.9" cy="985.6" rx="6.1" ry="16" stroke="#111" stroke-width="1.6" fill="#fff" transform="rotate(-41 1004.9 985.6)" />
<path d="M995.9,972.2 A6.5,16 -41 0 1 1016.9,996.3" stroke="#111" stroke-width="1.4" fill="none" stroke-linejoin="round" stroke-linecap="round" />
<path d="M998.2,970.2 A6.5,16 -41 0 1 1019.2,994.4" stroke="#111" stroke-width="1.4" fill="none" stroke-linejoin="round" stroke-linecap="round" />
<path d="M1000.4,968.2 A6.5,16 -41 0 1 1021.4,992.4" stroke="#111" stroke-width="1.4" fill="none" stroke-linejoin="round" stroke-linecap="round" />
<path d="M997.4,970.9 A6.5,16 -41 0 1 1018.4,995" stroke="#111" stroke-width="2.6" fill="none" stroke-linejoin="round" stroke-linecap="round" />
<ellipse cx="1003.4" cy="986.9" rx="7.4" ry="19.5" stroke="#111" stroke-width="1.7" fill="#fff" transform="rotate(-41 1003.4 986.9)" />
<path d="M961.9,997.1 L990.6,972.1 L1016.2,1001.6 L987.5,1026.5" stroke="#111" stroke-width="1.7" fill="#fff" stroke-linejoin="round"/>
<ellipse cx="974.7" cy="1011.8" rx="7.4" ry="19.5" stroke="#111" stroke-width="1.7" fill="#fff" transform="rotate(-41 974.7 1011.8)" />
<path d="M990.6,972.1 A8,19.5 -41 0 1 1016.2,1001.6" stroke="#111" stroke-width="2.6" fill="none" stroke-linejoin="round" stroke-linecap="round" />
<path d="M986.8,975.4 A8,19.5 -41 0 1 1012.4,1004.9" stroke="#111" stroke-width="1.2" fill="none" stroke-linejoin="round" stroke-linecap="round" />
<path d="M980,981.3 A8,19.5 -41 0 1 1005.6,1010.8" stroke="#111" stroke-width="1.3" fill="none" stroke-linejoin="round" stroke-linecap="round" />
<line x1="993.4" y1="987.6" x2="997.2" y2="984.3" stroke="#111" stroke-width="1.3"/>
<ellipse cx="974.7" cy="1011.8" rx="8" ry="19.5" stroke="#111" stroke-width="3" fill="#fff" transform="rotate(-41 974.7 1011.8)" />
<ellipse cx="975.5" cy="1011" rx="6" ry="16.5" stroke="#111" stroke-width="1.2" fill="none" transform="rotate(-41 975.5 1011)" />
<ellipse cx="969.8" cy="1005" rx="2.2" ry="3.2" stroke="#111" stroke-width="1.6" fill="none" transform="rotate(-41 969.8 1005)" />
<ellipse cx="977.7" cy="1014.1" rx="2.5" ry="5" stroke="#111" stroke-width="1.6" fill="none" transform="rotate(-41 977.7 1014.1)" />
<ellipse cx="982.9" cy="1020.1" rx="2" ry="3" stroke="#111" stroke-width="1.6" fill="none" transform="rotate(-41 982.9 1020.1)" />
<circle cx="964.7" cy="999.7" r="1.4" fill="#111"/>
<circle cx="972.6" cy="1008.8" r="1.4" fill="#111"/>
<circle cx="980.4" cy="1017.8" r="1.4" fill="#111"/>
<circle cx="985.7" cy="1023.9" r="1.4" fill="#111"/>
<ellipse cx="943.5" cy="1027.6" rx="6" ry="8.5" stroke="#111" stroke-width="2.4" fill="none" transform="rotate(-32 943.5 1027.6)" />
<ellipse cx="943.5" cy="1039.3" rx="6" ry="7.5" stroke="#111" stroke-width="2.4" fill="none" transform="rotate(-32 943.5 1039.3)" />
<ellipse cx="956.5" cy="1038.6" rx="6" ry="8" stroke="#111" stroke-width="2.4" fill="none" transform="rotate(-32 956.5 1038.6)" />
<path d="M1231.8,908 L1297.7,974 L1320,953.4" stroke="#111" stroke-width="5.2" fill="none" stroke-linejoin="round"/>
<path d="M1231.8,908 L1297.7,974 L1320,953.4" stroke="#f4f4f4" stroke-width="2.4" fill="none" stroke-linejoin="round"/>
</svg></body></html>
